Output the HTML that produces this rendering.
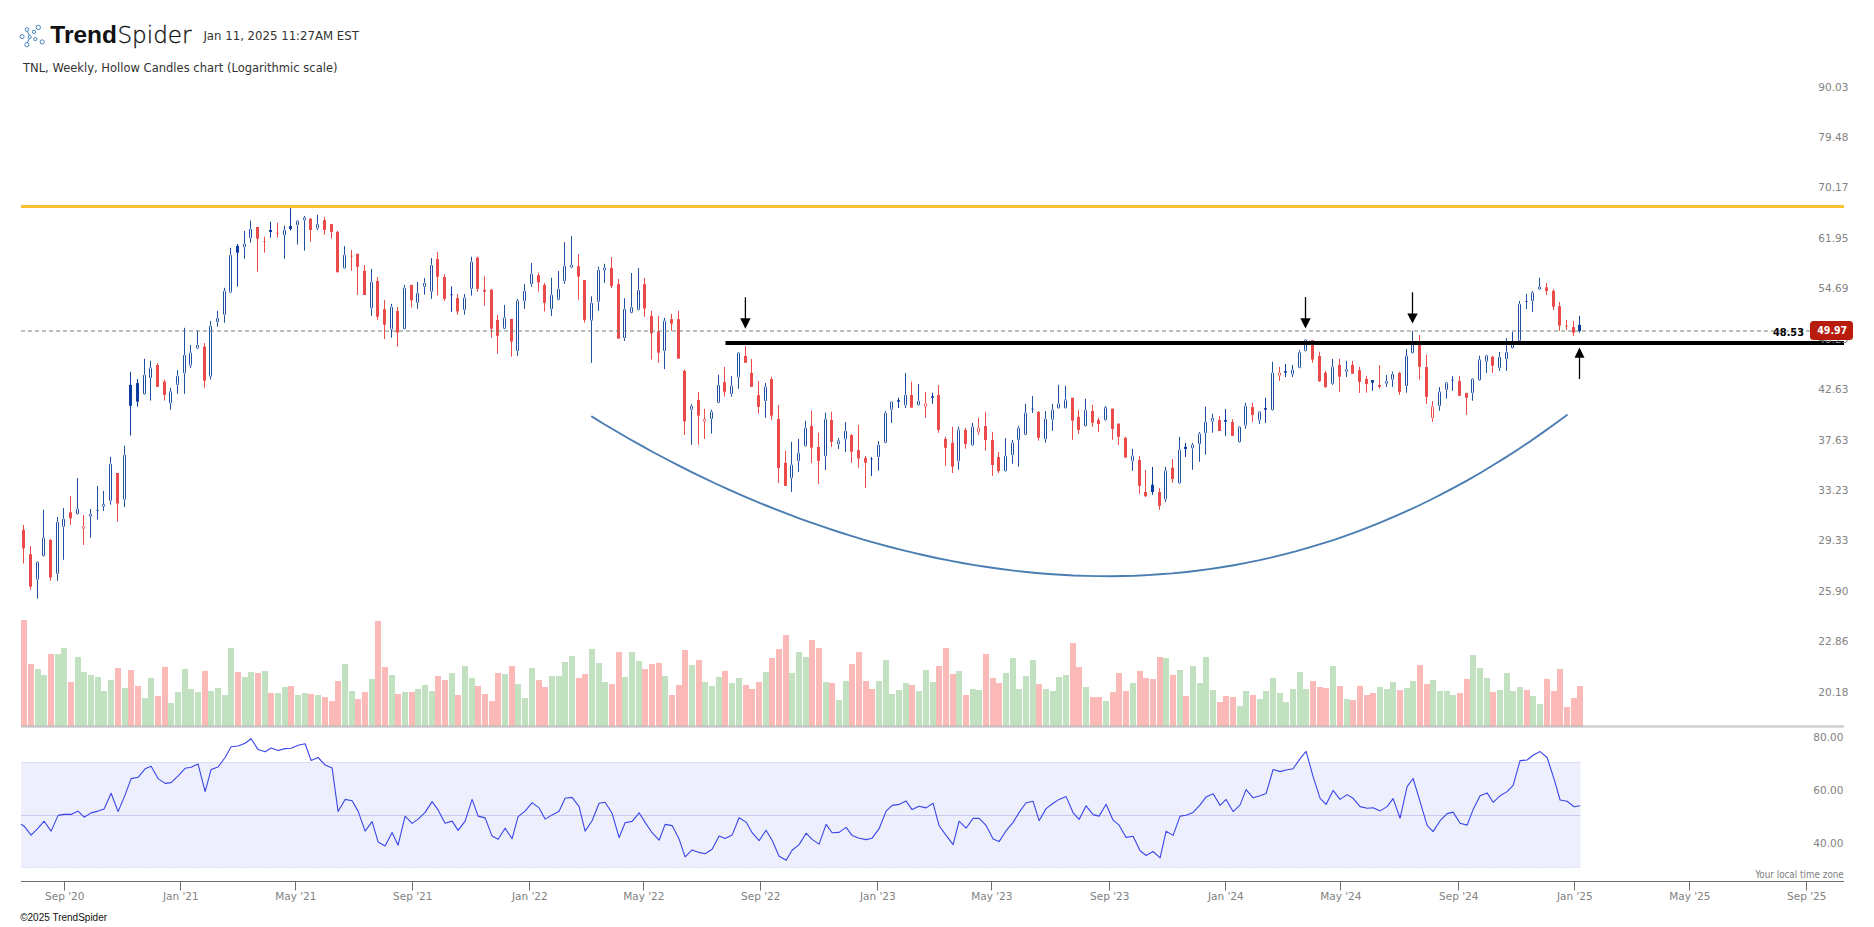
<!DOCTYPE html>
<html lang="en"><head><meta charset="utf-8"><title>TNL Weekly chart - TrendSpider</title>
<style>html,body{margin:0;padding:0;background:#fff;overflow:hidden}svg{display:block}</style></head>
<body>
<svg width="1874" height="927" viewBox="0 0 1874 927">
<rect width="100%" height="100%" fill="#fff"/>
<g id="rsi">
<rect x="21" y="762" width="1559.5" height="106" fill="#edf0fc"/>
<line x1="21" y1="762.5" x2="1580.5" y2="762.5" stroke="#dcdff3" stroke-width="1"/>
<line x1="21" y1="867.5" x2="1580.5" y2="867.5" stroke="#dfe2f6" stroke-width="1" stroke-dasharray="2 1"/>
<line x1="21" y1="815.5" x2="1580.5" y2="815.5" stroke="#c9caee" stroke-width="1"/>
<polyline fill="none" stroke="#3a45e8" stroke-width="1.1" stroke-linejoin="round" points="21.0,824.2 24.1,826.2 31.1,835.2 38.1,828.2 44.1,821.2 51.1,831.1 58.1,815.4 64.1,814.4 71.1,814.4 78.1,811.1 84.1,817.2 91.1,812.9 98.1,811.1 104.1,808.9 111.1,793.3 118.1,811.6 125.1,794.9 131.1,778.6 138.1,777.3 145.1,768.8 151.1,766.3 158.1,778.6 165.1,783.4 171.1,782.6 178.1,775.8 185.1,768.3 191.1,767.3 198.1,764.1 205.1,791.6 211.1,769.6 218.1,767.0 225.1,757.5 231.1,746.7 238.1,746.0 245.1,743.3 251.1,738.7 258.1,749.6 265.1,751.8 271.1,748.0 278.1,750.5 285.1,748.6 291.1,748.3 298.1,745.2 305.1,743.7 311.1,760.5 318.1,757.5 325.1,765.0 332.1,768.0 338.1,811.6 345.1,799.4 352.1,800.8 358.1,811.1 365.1,831.1 372.1,821.6 378.1,841.9 385.1,845.9 392.1,832.4 398.1,845.2 405.1,816.2 412.1,823.4 418.1,819.1 425.1,812.4 432.1,801.6 438.1,809.9 445.1,823.2 452.1,821.1 458.1,830.4 465.1,821.1 472.1,799.4 478.1,816.1 485.1,817.9 492.1,836.1 498.1,839.2 505.1,828.2 512.1,838.7 518.1,816.6 525.1,811.1 532.1,802.6 539.1,807.9 545.1,819.1 552.1,814.9 559.1,811.3 565.1,798.3 572.1,797.4 579.1,806.6 585.1,831.1 592.1,820.7 599.1,803.3 605.1,802.3 612.1,813.3 619.1,837.6 625.1,822.7 632.1,821.4 639.1,812.8 645.1,822.4 652.1,832.7 659.1,840.2 665.1,824.4 672.1,825.6 679.1,839.1 685.1,856.9 692.1,849.9 699.1,852.4 705.1,853.7 712.1,849.2 719.1,836.1 725.1,838.6 732.1,835.1 739.1,817.7 746.1,822.1 752.1,832.7 759.1,840.7 766.1,830.2 772.1,840.2 779.1,856.2 786.1,860.2 792.1,850.2 799.1,844.6 806.1,833.2 812.1,839.4 819.1,844.1 826.1,824.4 832.1,832.7 839.1,832.4 846.1,827.4 852.1,835.4 859.1,838.2 866.1,839.6 872.1,838.2 879.1,828.7 886.1,811.1 892.1,805.4 899.1,804.4 906.1,801.1 912.1,809.6 919.1,806.3 926.1,807.9 933.1,803.3 939.1,825.7 946.1,835.4 953.1,844.6 959.1,821.2 966.1,828.2 973.1,818.4 979.1,818.4 986.1,825.4 993.1,839.1 999.1,841.6 1006.1,830.7 1013.1,822.4 1019.1,812.4 1026.1,802.8 1033.1,801.3 1039.1,820.7 1046.1,808.6 1053.1,803.3 1059.1,799.4 1066.1,796.6 1073.1,812.8 1079.1,819.4 1086.1,805.8 1093.1,814.6 1099.1,816.1 1106.1,804.3 1113.1,820.2 1119.1,825.2 1126.1,837.4 1133.1,836.2 1140.1,850.7 1146.1,855.5 1153.1,851.5 1160.1,857.9 1166.1,831.2 1173.1,835.4 1180.1,816.1 1186.1,815.2 1193.1,812.4 1200.1,804.9 1206.1,796.9 1213.1,793.8 1220.1,805.4 1226.1,799.4 1233.1,811.6 1240.1,804.9 1246.1,789.6 1253.1,797.8 1260.1,795.8 1266.1,793.6 1273.1,769.5 1280.1,771.6 1286.1,770.0 1293.1,768.8 1300.1,758.6 1306.1,751.3 1313.1,776.6 1320.1,798.3 1326.1,804.4 1333.1,790.4 1340.1,799.4 1347.1,794.6 1353.1,798.3 1360.1,806.6 1367.1,808.3 1373.1,807.8 1380.1,810.9 1387.1,806.6 1393.1,798.6 1400.1,818.2 1407.1,786.6 1413.1,778.5 1420.1,801.6 1427.1,825.4 1433.1,831.6 1440.1,820.7 1447.1,813.6 1453.1,812.1 1460.1,823.2 1467.1,825.1 1473.1,809.6 1480.1,795.8 1487.1,792.9 1493.1,802.3 1500.1,795.8 1507.1,791.6 1513.1,785.3 1520.1,760.6 1527.1,760.0 1533.1,755.3 1540.1,751.6 1547.1,757.5 1554.1,779.2 1560.1,800.0 1567.1,801.3 1574.1,806.8 1580.1,805.8"/>
</g>
<g id="vol" shape-rendering="crispEdges">
<rect x="21" y="620.0" width="6" height="106.5" fill="#fbb9b7"/>
<rect x="28" y="664.1" width="6" height="62.4" fill="#fbb9b7"/>
<rect x="35" y="669.1" width="6" height="57.4" fill="#c1e1c1"/>
<rect x="41" y="675.3" width="6" height="51.2" fill="#c1e1c1"/>
<rect x="48" y="654.1" width="6" height="72.4" fill="#fbb9b7"/>
<rect x="55" y="654.1" width="6" height="72.4" fill="#c1e1c1"/>
<rect x="61" y="648.0" width="6" height="78.5" fill="#c1e1c1"/>
<rect x="68" y="682.1" width="6" height="44.4" fill="#fbb9b7"/>
<rect x="75" y="657.0" width="6" height="69.5" fill="#c1e1c1"/>
<rect x="81" y="672.1" width="6" height="54.4" fill="#c1e1c1"/>
<rect x="88" y="675.1" width="6" height="51.4" fill="#c1e1c1"/>
<rect x="95" y="677.1" width="6" height="49.4" fill="#c1e1c1"/>
<rect x="101" y="691.1" width="6" height="35.4" fill="#c1e1c1"/>
<rect x="108" y="680.1" width="6" height="46.4" fill="#c1e1c1"/>
<rect x="115" y="668.1" width="6" height="58.4" fill="#fbb9b7"/>
<rect x="122" y="688.1" width="6" height="38.4" fill="#c1e1c1"/>
<rect x="128" y="670.1" width="6" height="56.4" fill="#fbb9b7"/>
<rect x="135" y="686.1" width="6" height="40.4" fill="#fbb9b7"/>
<rect x="142" y="698.1" width="6" height="28.4" fill="#c1e1c1"/>
<rect x="148" y="678.1" width="6" height="48.4" fill="#c1e1c1"/>
<rect x="155" y="696.1" width="6" height="30.4" fill="#fbb9b7"/>
<rect x="162" y="667.1" width="6" height="59.4" fill="#fbb9b7"/>
<rect x="168" y="703.1" width="6" height="23.4" fill="#c1e1c1"/>
<rect x="175" y="692.1" width="6" height="34.4" fill="#c1e1c1"/>
<rect x="182" y="669.1" width="6" height="57.4" fill="#c1e1c1"/>
<rect x="188" y="689.1" width="6" height="37.4" fill="#c1e1c1"/>
<rect x="195" y="692.1" width="6" height="34.4" fill="#c1e1c1"/>
<rect x="202" y="671.1" width="6" height="55.4" fill="#fbb9b7"/>
<rect x="208" y="691.1" width="6" height="35.4" fill="#c1e1c1"/>
<rect x="215" y="688.1" width="6" height="38.4" fill="#c1e1c1"/>
<rect x="222" y="695.1" width="6" height="31.4" fill="#c1e1c1"/>
<rect x="228" y="648.0" width="6" height="78.5" fill="#c1e1c1"/>
<rect x="235" y="672.1" width="6" height="54.4" fill="#fbb9b7"/>
<rect x="242" y="677.1" width="6" height="49.4" fill="#c1e1c1"/>
<rect x="248" y="672.1" width="6" height="54.4" fill="#c1e1c1"/>
<rect x="255" y="673.1" width="6" height="53.4" fill="#fbb9b7"/>
<rect x="262" y="671.1" width="6" height="55.4" fill="#c1e1c1"/>
<rect x="268" y="693.1" width="6" height="33.4" fill="#fbb9b7"/>
<rect x="275" y="693.1" width="6" height="33.4" fill="#c1e1c1"/>
<rect x="282" y="687.1" width="6" height="39.4" fill="#c1e1c1"/>
<rect x="288" y="686.1" width="6" height="40.4" fill="#fbb9b7"/>
<rect x="295" y="695.1" width="6" height="31.4" fill="#c1e1c1"/>
<rect x="302" y="693.1" width="6" height="33.4" fill="#c1e1c1"/>
<rect x="308" y="694.1" width="6" height="32.4" fill="#fbb9b7"/>
<rect x="315" y="695.1" width="6" height="31.4" fill="#c1e1c1"/>
<rect x="322" y="697.1" width="6" height="29.4" fill="#fbb9b7"/>
<rect x="329" y="701.1" width="6" height="25.4" fill="#fbb9b7"/>
<rect x="335" y="681.1" width="6" height="45.4" fill="#fbb9b7"/>
<rect x="342" y="664.1" width="6" height="62.4" fill="#c1e1c1"/>
<rect x="349" y="691.1" width="6" height="35.4" fill="#c1e1c1"/>
<rect x="355" y="699.1" width="6" height="27.4" fill="#fbb9b7"/>
<rect x="362" y="692.1" width="6" height="34.4" fill="#fbb9b7"/>
<rect x="369" y="679.1" width="6" height="47.4" fill="#c1e1c1"/>
<rect x="375" y="621.0" width="6" height="105.5" fill="#fbb9b7"/>
<rect x="382" y="667.1" width="6" height="59.4" fill="#fbb9b7"/>
<rect x="389" y="675.1" width="6" height="51.4" fill="#c1e1c1"/>
<rect x="395" y="694.1" width="6" height="32.4" fill="#fbb9b7"/>
<rect x="402" y="692.1" width="6" height="34.4" fill="#c1e1c1"/>
<rect x="409" y="692.1" width="6" height="34.4" fill="#fbb9b7"/>
<rect x="415" y="689.1" width="6" height="37.4" fill="#c1e1c1"/>
<rect x="422" y="685.1" width="6" height="41.4" fill="#c1e1c1"/>
<rect x="429" y="691.1" width="6" height="35.4" fill="#c1e1c1"/>
<rect x="435" y="676.1" width="6" height="50.4" fill="#fbb9b7"/>
<rect x="442" y="680.1" width="6" height="46.4" fill="#fbb9b7"/>
<rect x="449" y="673.1" width="6" height="53.4" fill="#c1e1c1"/>
<rect x="455" y="695.1" width="6" height="31.4" fill="#fbb9b7"/>
<rect x="462" y="666.1" width="6" height="60.4" fill="#c1e1c1"/>
<rect x="469" y="678.1" width="6" height="48.4" fill="#c1e1c1"/>
<rect x="475" y="686.1" width="6" height="40.4" fill="#fbb9b7"/>
<rect x="482" y="694.1" width="6" height="32.4" fill="#fbb9b7"/>
<rect x="489" y="701.1" width="6" height="25.4" fill="#fbb9b7"/>
<rect x="495" y="673.1" width="6" height="53.4" fill="#fbb9b7"/>
<rect x="502" y="674.1" width="6" height="52.4" fill="#c1e1c1"/>
<rect x="509" y="666.1" width="6" height="60.4" fill="#fbb9b7"/>
<rect x="515" y="684.1" width="6" height="42.4" fill="#c1e1c1"/>
<rect x="522" y="698.1" width="6" height="28.4" fill="#c1e1c1"/>
<rect x="529" y="668.1" width="6" height="58.4" fill="#c1e1c1"/>
<rect x="536" y="680.1" width="6" height="46.4" fill="#fbb9b7"/>
<rect x="542" y="687.1" width="6" height="39.4" fill="#fbb9b7"/>
<rect x="549" y="676.1" width="6" height="50.4" fill="#c1e1c1"/>
<rect x="556" y="676.1" width="6" height="50.4" fill="#c1e1c1"/>
<rect x="562" y="662.1" width="6" height="64.4" fill="#c1e1c1"/>
<rect x="569" y="656.1" width="6" height="70.4" fill="#c1e1c1"/>
<rect x="576" y="678.1" width="6" height="48.4" fill="#fbb9b7"/>
<rect x="582" y="674.1" width="6" height="52.4" fill="#fbb9b7"/>
<rect x="589" y="649.1" width="6" height="77.4" fill="#c1e1c1"/>
<rect x="596" y="663.1" width="6" height="63.4" fill="#c1e1c1"/>
<rect x="602" y="682.1" width="6" height="44.4" fill="#c1e1c1"/>
<rect x="609" y="684.1" width="6" height="42.4" fill="#fbb9b7"/>
<rect x="616" y="652.1" width="6" height="74.4" fill="#fbb9b7"/>
<rect x="622" y="677.1" width="6" height="49.4" fill="#c1e1c1"/>
<rect x="629" y="652.1" width="6" height="74.4" fill="#c1e1c1"/>
<rect x="636" y="661.1" width="6" height="65.4" fill="#c1e1c1"/>
<rect x="642" y="669.1" width="6" height="57.4" fill="#fbb9b7"/>
<rect x="649" y="664.1" width="6" height="62.4" fill="#fbb9b7"/>
<rect x="656" y="663.1" width="6" height="63.4" fill="#fbb9b7"/>
<rect x="662" y="676.1" width="6" height="50.4" fill="#c1e1c1"/>
<rect x="669" y="695.1" width="6" height="31.4" fill="#fbb9b7"/>
<rect x="676" y="685.1" width="6" height="41.4" fill="#fbb9b7"/>
<rect x="682" y="650.1" width="6" height="76.4" fill="#fbb9b7"/>
<rect x="689" y="665.1" width="6" height="61.4" fill="#c1e1c1"/>
<rect x="696" y="660.1" width="6" height="66.4" fill="#fbb9b7"/>
<rect x="702" y="682.1" width="6" height="44.4" fill="#c1e1c1"/>
<rect x="709" y="686.1" width="6" height="40.4" fill="#c1e1c1"/>
<rect x="716" y="677.1" width="6" height="49.4" fill="#c1e1c1"/>
<rect x="722" y="671.1" width="6" height="55.4" fill="#fbb9b7"/>
<rect x="729" y="683.1" width="6" height="43.4" fill="#c1e1c1"/>
<rect x="736" y="678.1" width="6" height="48.4" fill="#c1e1c1"/>
<rect x="743" y="685.1" width="6" height="41.4" fill="#fbb9b7"/>
<rect x="749" y="689.1" width="6" height="37.4" fill="#fbb9b7"/>
<rect x="756" y="682.1" width="6" height="44.4" fill="#fbb9b7"/>
<rect x="763" y="672.1" width="6" height="54.4" fill="#c1e1c1"/>
<rect x="769" y="658.1" width="6" height="68.4" fill="#fbb9b7"/>
<rect x="776" y="649.1" width="6" height="77.4" fill="#fbb9b7"/>
<rect x="783" y="635.1" width="6" height="91.4" fill="#fbb9b7"/>
<rect x="789" y="673.1" width="6" height="53.4" fill="#c1e1c1"/>
<rect x="796" y="652.1" width="6" height="74.4" fill="#c1e1c1"/>
<rect x="803" y="657.1" width="6" height="69.4" fill="#c1e1c1"/>
<rect x="809" y="640.1" width="6" height="86.4" fill="#fbb9b7"/>
<rect x="816" y="648.1" width="6" height="78.4" fill="#fbb9b7"/>
<rect x="823" y="682.1" width="6" height="44.4" fill="#c1e1c1"/>
<rect x="829" y="683.1" width="6" height="43.4" fill="#fbb9b7"/>
<rect x="836" y="700.1" width="6" height="26.4" fill="#c1e1c1"/>
<rect x="843" y="681.1" width="6" height="45.4" fill="#c1e1c1"/>
<rect x="849" y="664.1" width="6" height="62.4" fill="#fbb9b7"/>
<rect x="856" y="652.1" width="6" height="74.4" fill="#fbb9b7"/>
<rect x="863" y="681.1" width="6" height="45.4" fill="#fbb9b7"/>
<rect x="869" y="689.1" width="6" height="37.4" fill="#fbb9b7"/>
<rect x="876" y="681.1" width="6" height="45.4" fill="#c1e1c1"/>
<rect x="883" y="660.1" width="6" height="66.4" fill="#c1e1c1"/>
<rect x="889" y="694.1" width="6" height="32.4" fill="#c1e1c1"/>
<rect x="896" y="690.1" width="6" height="36.4" fill="#c1e1c1"/>
<rect x="903" y="683.1" width="6" height="43.4" fill="#c1e1c1"/>
<rect x="909" y="685.1" width="6" height="41.4" fill="#fbb9b7"/>
<rect x="916" y="691.1" width="6" height="35.4" fill="#c1e1c1"/>
<rect x="923" y="670.1" width="6" height="56.4" fill="#c1e1c1"/>
<rect x="930" y="682.1" width="6" height="44.4" fill="#c1e1c1"/>
<rect x="936" y="666.1" width="6" height="60.4" fill="#fbb9b7"/>
<rect x="943" y="648.1" width="6" height="78.4" fill="#fbb9b7"/>
<rect x="950" y="674.1" width="6" height="52.4" fill="#fbb9b7"/>
<rect x="956" y="671.1" width="6" height="55.4" fill="#c1e1c1"/>
<rect x="963" y="695.1" width="6" height="31.4" fill="#fbb9b7"/>
<rect x="970" y="689.1" width="6" height="37.4" fill="#c1e1c1"/>
<rect x="976" y="690.1" width="6" height="36.4" fill="#c1e1c1"/>
<rect x="983" y="654.1" width="6" height="72.4" fill="#fbb9b7"/>
<rect x="990" y="678.1" width="6" height="48.4" fill="#fbb9b7"/>
<rect x="996" y="683.1" width="6" height="43.4" fill="#fbb9b7"/>
<rect x="1003" y="673.1" width="6" height="53.4" fill="#c1e1c1"/>
<rect x="1010" y="658.1" width="6" height="68.4" fill="#c1e1c1"/>
<rect x="1016" y="689.1" width="6" height="37.4" fill="#c1e1c1"/>
<rect x="1023" y="676.1" width="6" height="50.4" fill="#c1e1c1"/>
<rect x="1030" y="660.1" width="6" height="66.4" fill="#c1e1c1"/>
<rect x="1036" y="684.1" width="6" height="42.4" fill="#fbb9b7"/>
<rect x="1043" y="689.1" width="6" height="37.4" fill="#c1e1c1"/>
<rect x="1050" y="691.1" width="6" height="35.4" fill="#c1e1c1"/>
<rect x="1056" y="677.1" width="6" height="49.4" fill="#c1e1c1"/>
<rect x="1063" y="675.1" width="6" height="51.4" fill="#c1e1c1"/>
<rect x="1070" y="643.1" width="6" height="83.4" fill="#fbb9b7"/>
<rect x="1076" y="667.1" width="6" height="59.4" fill="#fbb9b7"/>
<rect x="1083" y="687.1" width="6" height="39.4" fill="#c1e1c1"/>
<rect x="1090" y="697.1" width="6" height="29.4" fill="#fbb9b7"/>
<rect x="1096" y="697.1" width="6" height="29.4" fill="#fbb9b7"/>
<rect x="1103" y="701.1" width="6" height="25.4" fill="#c1e1c1"/>
<rect x="1110" y="692.1" width="6" height="34.4" fill="#fbb9b7"/>
<rect x="1116" y="673.1" width="6" height="53.4" fill="#fbb9b7"/>
<rect x="1123" y="691.1" width="6" height="35.4" fill="#fbb9b7"/>
<rect x="1130" y="683.1" width="6" height="43.4" fill="#c1e1c1"/>
<rect x="1137" y="671.1" width="6" height="55.4" fill="#fbb9b7"/>
<rect x="1143" y="678.1" width="6" height="48.4" fill="#fbb9b7"/>
<rect x="1150" y="679.1" width="6" height="47.4" fill="#fbb9b7"/>
<rect x="1157" y="657.1" width="6" height="69.4" fill="#fbb9b7"/>
<rect x="1163" y="658.1" width="6" height="68.4" fill="#c1e1c1"/>
<rect x="1170" y="675.1" width="6" height="51.4" fill="#fbb9b7"/>
<rect x="1177" y="670.1" width="6" height="56.4" fill="#c1e1c1"/>
<rect x="1183" y="696.1" width="6" height="30.4" fill="#fbb9b7"/>
<rect x="1190" y="666.1" width="6" height="60.4" fill="#c1e1c1"/>
<rect x="1197" y="683.1" width="6" height="43.4" fill="#c1e1c1"/>
<rect x="1203" y="657.1" width="6" height="69.4" fill="#c1e1c1"/>
<rect x="1210" y="690.1" width="6" height="36.4" fill="#c1e1c1"/>
<rect x="1217" y="702.1" width="6" height="24.4" fill="#fbb9b7"/>
<rect x="1223" y="696.1" width="6" height="30.4" fill="#fbb9b7"/>
<rect x="1230" y="697.1" width="6" height="29.4" fill="#fbb9b7"/>
<rect x="1237" y="706.1" width="6" height="20.4" fill="#c1e1c1"/>
<rect x="1243" y="691.1" width="6" height="35.4" fill="#c1e1c1"/>
<rect x="1250" y="695.1" width="6" height="31.4" fill="#fbb9b7"/>
<rect x="1257" y="699.1" width="6" height="27.4" fill="#c1e1c1"/>
<rect x="1263" y="691.1" width="6" height="35.4" fill="#c1e1c1"/>
<rect x="1270" y="678.1" width="6" height="48.4" fill="#c1e1c1"/>
<rect x="1277" y="693.1" width="6" height="33.4" fill="#c1e1c1"/>
<rect x="1283" y="702.1" width="6" height="24.4" fill="#c1e1c1"/>
<rect x="1290" y="689.1" width="6" height="37.4" fill="#c1e1c1"/>
<rect x="1297" y="672.1" width="6" height="54.4" fill="#c1e1c1"/>
<rect x="1303" y="689.1" width="6" height="37.4" fill="#c1e1c1"/>
<rect x="1310" y="681.1" width="6" height="45.4" fill="#fbb9b7"/>
<rect x="1317" y="687.1" width="6" height="39.4" fill="#fbb9b7"/>
<rect x="1323" y="688.1" width="6" height="38.4" fill="#fbb9b7"/>
<rect x="1330" y="666.1" width="6" height="60.4" fill="#c1e1c1"/>
<rect x="1337" y="686.1" width="6" height="40.4" fill="#fbb9b7"/>
<rect x="1344" y="699.1" width="6" height="27.4" fill="#c1e1c1"/>
<rect x="1350" y="700.1" width="6" height="26.4" fill="#fbb9b7"/>
<rect x="1357" y="686.1" width="6" height="40.4" fill="#fbb9b7"/>
<rect x="1364" y="695.1" width="6" height="31.4" fill="#fbb9b7"/>
<rect x="1370" y="693.1" width="6" height="33.4" fill="#fbb9b7"/>
<rect x="1377" y="687.1" width="6" height="39.4" fill="#c1e1c1"/>
<rect x="1384" y="689.1" width="6" height="37.4" fill="#c1e1c1"/>
<rect x="1390" y="682.1" width="6" height="44.4" fill="#c1e1c1"/>
<rect x="1397" y="690.1" width="6" height="36.4" fill="#fbb9b7"/>
<rect x="1404" y="688.1" width="6" height="38.4" fill="#c1e1c1"/>
<rect x="1410" y="681.1" width="6" height="45.4" fill="#c1e1c1"/>
<rect x="1417" y="665.1" width="6" height="61.4" fill="#fbb9b7"/>
<rect x="1424" y="684.1" width="6" height="42.4" fill="#fbb9b7"/>
<rect x="1430" y="680.1" width="6" height="46.4" fill="#c1e1c1"/>
<rect x="1437" y="691.1" width="6" height="35.4" fill="#c1e1c1"/>
<rect x="1444" y="691.1" width="6" height="35.4" fill="#c1e1c1"/>
<rect x="1450" y="695.1" width="6" height="31.4" fill="#c1e1c1"/>
<rect x="1457" y="693.1" width="6" height="33.4" fill="#fbb9b7"/>
<rect x="1464" y="679.1" width="6" height="47.4" fill="#fbb9b7"/>
<rect x="1470" y="655.1" width="6" height="71.4" fill="#c1e1c1"/>
<rect x="1477" y="668.1" width="6" height="58.4" fill="#c1e1c1"/>
<rect x="1484" y="678.1" width="6" height="48.4" fill="#c1e1c1"/>
<rect x="1490" y="692.1" width="6" height="34.4" fill="#fbb9b7"/>
<rect x="1497" y="690.1" width="6" height="36.4" fill="#c1e1c1"/>
<rect x="1504" y="673.1" width="6" height="53.4" fill="#c1e1c1"/>
<rect x="1510" y="691.1" width="6" height="35.4" fill="#c1e1c1"/>
<rect x="1517" y="687.1" width="6" height="39.4" fill="#c1e1c1"/>
<rect x="1524" y="690.1" width="6" height="36.4" fill="#fbb9b7"/>
<rect x="1530" y="696.1" width="6" height="30.4" fill="#c1e1c1"/>
<rect x="1537" y="704.1" width="6" height="22.4" fill="#c1e1c1"/>
<rect x="1544" y="679.1" width="6" height="47.4" fill="#fbb9b7"/>
<rect x="1551" y="691.1" width="6" height="35.4" fill="#fbb9b7"/>
<rect x="1557" y="669.0" width="6" height="57.5" fill="#fbb9b7"/>
<rect x="1564" y="707.0" width="6" height="19.5" fill="#fbb9b7"/>
<rect x="1571" y="698.1" width="6" height="28.4" fill="#fbb9b7"/>
<rect x="1577" y="686.0" width="6" height="40.5" fill="#fbb9b7"/>
</g>
<rect x="21" y="725.2" width="1823" height="2.5" fill="#bdbdbd" fill-opacity="0.75"/>
<line x1="21" y1="206.5" x2="1844" y2="206.5" stroke="#fbc02d" stroke-width="3"/>
<polyline fill="none" stroke="#4a7db1" stroke-width="1.9" stroke-linecap="round" points="592.0,416.6 604.3,424.2 616.7,431.5 629.0,438.7 641.4,445.7 653.7,452.5 666.1,459.0 678.4,465.4 690.7,471.6 703.1,477.6 715.4,483.5 727.8,489.1 740.1,494.6 752.4,499.9 764.8,505.0 777.1,509.9 789.5,514.7 801.8,519.3 814.2,523.7 826.5,527.9 838.8,532.0 851.2,535.8 863.5,539.6 875.9,543.1 888.2,546.5 900.5,549.6 912.9,552.7 925.2,555.5 937.6,558.2 949.9,560.6 962.3,563.0 974.6,565.1 986.9,567.0 999.3,568.8 1011.6,570.4 1024.0,571.8 1036.3,573.0 1048.6,574.0 1061.0,574.8 1073.3,575.5 1085.7,575.9 1098.0,576.1 1110.4,576.2 1122.7,576.0 1135.0,575.7 1147.4,575.1 1159.7,574.3 1172.1,573.4 1184.4,572.2 1196.7,570.8 1209.1,569.1 1221.4,567.3 1233.8,565.2 1246.1,562.9 1258.5,560.4 1270.8,557.6 1283.1,554.6 1295.5,551.4 1307.8,547.9 1320.2,544.2 1332.5,540.3 1344.8,536.1 1357.2,531.6 1369.5,526.9 1381.9,521.9 1394.2,516.7 1406.6,511.2 1418.9,505.5 1431.2,499.5 1443.6,493.2 1455.9,486.6 1468.3,479.8 1480.6,472.7 1492.9,465.3 1505.3,457.6 1517.6,449.7 1530.0,441.5 1542.3,432.9 1554.7,424.1 1567.0,415.0"/>
<g id="candles">
<line x1="23.5" y1="524.9" x2="23.5" y2="563.5" stroke="#ea4a4a" stroke-width="1"/>
<rect x="22.0" y="529.9" width="3" height="18.4" fill="#ea4a4a"/>
<line x1="30.5" y1="546.0" x2="30.5" y2="589.9" stroke="#ea4a4a" stroke-width="1"/>
<rect x="29.0" y="554.2" width="3" height="32.4" fill="#ea4a4a"/>
<line x1="37.5" y1="580.2" x2="37.5" y2="598.6" stroke="#1f4fa3" stroke-width="1"/>
<rect x="36.5" y="561.9" width="2" height="17.8" rx="1" fill="#fff" stroke="#1f4fa3" stroke-width="1"/>
<line x1="43.5" y1="509.9" x2="43.5" y2="537.0" stroke="#1f4fa3" stroke-width="1"/>
<rect x="42.5" y="537.5" width="2" height="18.5" rx="1" fill="#fff" stroke="#1f4fa3" stroke-width="1"/>
<line x1="50.5" y1="539.0" x2="50.5" y2="580.8" stroke="#ea4a4a" stroke-width="1"/>
<rect x="49.0" y="540.0" width="3" height="37.5" fill="#ea4a4a"/>
<line x1="57.5" y1="517.0" x2="57.5" y2="521.2" stroke="#1f4fa3" stroke-width="1"/>
<line x1="57.5" y1="574.4" x2="57.5" y2="580.8" stroke="#1f4fa3" stroke-width="1"/>
<rect x="56.5" y="521.7" width="2" height="52.2" rx="1" fill="#fff" stroke="#1f4fa3" stroke-width="1"/>
<line x1="63.5" y1="508.0" x2="63.5" y2="518.3" stroke="#1f4fa3" stroke-width="1"/>
<line x1="63.5" y1="527.4" x2="63.5" y2="559.8" stroke="#1f4fa3" stroke-width="1"/>
<rect x="62.5" y="518.8" width="2" height="8.1" rx="1" fill="#fff" stroke="#1f4fa3" stroke-width="1"/>
<line x1="70.5" y1="495.9" x2="70.5" y2="524.9" stroke="#ea4a4a" stroke-width="1"/>
<rect x="69.0" y="512.2" width="3" height="6.1" fill="#ea4a4a"/>
<line x1="77.5" y1="478.0" x2="77.5" y2="508.0" stroke="#1f4fa3" stroke-width="1"/>
<rect x="76.5" y="508.5" width="2" height="5.6" rx="1" fill="#fff" stroke="#1f4fa3" stroke-width="1"/>
<line x1="83.5" y1="515.0" x2="83.5" y2="525.9" stroke="#ea4a4a" stroke-width="1"/>
<line x1="83.5" y1="528.9" x2="83.5" y2="544.9" stroke="#ea4a4a" stroke-width="1"/>
<ellipse cx="83.5" cy="527.4" rx="1.15" ry="1.15" fill="#fff" stroke="#ea4a4a" stroke-width="1"/>
<line x1="90.5" y1="509.0" x2="90.5" y2="513.8" stroke="#1f4fa3" stroke-width="1"/>
<line x1="90.5" y1="516.8" x2="90.5" y2="537.7" stroke="#1f4fa3" stroke-width="1"/>
<ellipse cx="90.5" cy="515.3" rx="1.15" ry="1.15" fill="#fff" stroke="#1f4fa3" stroke-width="1"/>
<line x1="97.5" y1="486.0" x2="97.5" y2="519.6" stroke="#1f4fa3" stroke-width="1"/>
<line x1="96.0" y1="510.3" x2="99.0" y2="510.3" stroke="#1f4fa3" stroke-width="1" stroke-opacity="0.6"/>
<line x1="103.5" y1="490.9" x2="103.5" y2="503.9" stroke="#1f4fa3" stroke-width="1"/>
<line x1="103.5" y1="506.9" x2="103.5" y2="510.9" stroke="#1f4fa3" stroke-width="1"/>
<ellipse cx="103.5" cy="505.4" rx="1.15" ry="1.15" fill="#fff" stroke="#1f4fa3" stroke-width="1"/>
<line x1="110.5" y1="457.0" x2="110.5" y2="463.3" stroke="#1f4fa3" stroke-width="1"/>
<line x1="110.5" y1="501.4" x2="110.5" y2="504.7" stroke="#1f4fa3" stroke-width="1"/>
<rect x="109.5" y="463.8" width="2" height="37.1" rx="1" fill="#fff" stroke="#1f4fa3" stroke-width="1"/>
<line x1="117.5" y1="473.0" x2="117.5" y2="521.6" stroke="#ea4a4a" stroke-width="1"/>
<rect x="116.0" y="473.0" width="3" height="30.5" fill="#ea4a4a"/>
<line x1="124.5" y1="445.8" x2="124.5" y2="454.2" stroke="#1f4fa3" stroke-width="1"/>
<line x1="124.5" y1="500.2" x2="124.5" y2="507.0" stroke="#1f4fa3" stroke-width="1"/>
<rect x="123.5" y="454.7" width="2" height="45.0" rx="1" fill="#fff" stroke="#1f4fa3" stroke-width="1"/>
<line x1="130.5" y1="371.8" x2="130.5" y2="435.5" stroke="#0d3d9e" stroke-width="1"/>
<rect x="129.0" y="384.9" width="3" height="20.9" fill="#0d3d9e"/>
<line x1="137.5" y1="379.0" x2="137.5" y2="406.8" stroke="#0d3d9e" stroke-width="1"/>
<rect x="136.0" y="383.1" width="3" height="18.5" fill="#0d3d9e"/>
<line x1="144.5" y1="358.8" x2="144.5" y2="374.2" stroke="#1f4fa3" stroke-width="1"/>
<rect x="143.5" y="374.7" width="2" height="19.4" rx="1" fill="#fff" stroke="#1f4fa3" stroke-width="1"/>
<line x1="150.5" y1="360.8" x2="150.5" y2="367.0" stroke="#1f4fa3" stroke-width="1"/>
<line x1="150.5" y1="378.6" x2="150.5" y2="400.6" stroke="#1f4fa3" stroke-width="1"/>
<rect x="149.5" y="367.5" width="2" height="10.6" rx="1" fill="#fff" stroke="#1f4fa3" stroke-width="1"/>
<line x1="157.5" y1="363.0" x2="157.5" y2="386.8" stroke="#ea4a4a" stroke-width="1"/>
<rect x="156.0" y="365.0" width="3" height="21.8" fill="#ea4a4a"/>
<line x1="164.5" y1="379.6" x2="164.5" y2="400.6" stroke="#ea4a4a" stroke-width="1"/>
<rect x="163.0" y="381.6" width="3" height="13.2" fill="#ea4a4a"/>
<line x1="170.5" y1="387.8" x2="170.5" y2="390.9" stroke="#1f4fa3" stroke-width="1"/>
<line x1="170.5" y1="403.9" x2="170.5" y2="409.7" stroke="#1f4fa3" stroke-width="1"/>
<rect x="169.5" y="391.4" width="2" height="12.0" rx="1" fill="#fff" stroke="#1f4fa3" stroke-width="1"/>
<line x1="177.5" y1="369.9" x2="177.5" y2="375.3" stroke="#1f4fa3" stroke-width="1"/>
<line x1="177.5" y1="385.4" x2="177.5" y2="393.8" stroke="#1f4fa3" stroke-width="1"/>
<rect x="176.5" y="375.8" width="2" height="9.1" rx="1" fill="#fff" stroke="#1f4fa3" stroke-width="1"/>
<line x1="184.5" y1="327.8" x2="184.5" y2="354.4" stroke="#1f4fa3" stroke-width="1"/>
<line x1="184.5" y1="373.8" x2="184.5" y2="393.8" stroke="#1f4fa3" stroke-width="1"/>
<rect x="183.5" y="354.9" width="2" height="18.4" rx="1" fill="#fff" stroke="#1f4fa3" stroke-width="1"/>
<line x1="190.5" y1="345.0" x2="190.5" y2="352.0" stroke="#1f4fa3" stroke-width="1"/>
<line x1="190.5" y1="366.0" x2="190.5" y2="368.0" stroke="#1f4fa3" stroke-width="1"/>
<rect x="189.5" y="352.5" width="2" height="13.0" rx="1" fill="#fff" stroke="#1f4fa3" stroke-width="1"/>
<line x1="197.5" y1="330.5" x2="197.5" y2="344.3" stroke="#1f4fa3" stroke-width="1"/>
<rect x="196.5" y="344.8" width="2" height="3.7" rx="1" fill="#fff" stroke="#1f4fa3" stroke-width="1"/>
<line x1="204.5" y1="343.1" x2="204.5" y2="387.8" stroke="#ea4a4a" stroke-width="1"/>
<rect x="203.0" y="346.6" width="3" height="34.0" fill="#ea4a4a"/>
<line x1="210.5" y1="321.0" x2="210.5" y2="325.2" stroke="#1f4fa3" stroke-width="1"/>
<line x1="210.5" y1="377.1" x2="210.5" y2="379.6" stroke="#1f4fa3" stroke-width="1"/>
<rect x="209.5" y="325.7" width="2" height="50.9" rx="1" fill="#fff" stroke="#1f4fa3" stroke-width="1"/>
<line x1="217.5" y1="310.9" x2="217.5" y2="317.4" stroke="#1f4fa3" stroke-width="1"/>
<line x1="217.5" y1="322.5" x2="217.5" y2="326.7" stroke="#1f4fa3" stroke-width="1"/>
<rect x="216.5" y="317.9" width="2" height="4.1" rx="1" fill="#fff" stroke="#1f4fa3" stroke-width="1"/>
<line x1="224.5" y1="287.8" x2="224.5" y2="290.1" stroke="#1f4fa3" stroke-width="1"/>
<line x1="224.5" y1="315.4" x2="224.5" y2="322.8" stroke="#1f4fa3" stroke-width="1"/>
<rect x="223.5" y="290.6" width="2" height="24.3" rx="1" fill="#fff" stroke="#1f4fa3" stroke-width="1"/>
<line x1="230.5" y1="247.8" x2="230.5" y2="254.2" stroke="#1f4fa3" stroke-width="1"/>
<rect x="229.5" y="254.7" width="2" height="37.9" rx="1" fill="#fff" stroke="#1f4fa3" stroke-width="1"/>
<line x1="237.5" y1="243.9" x2="237.5" y2="286.7" stroke="#0d3d9e" stroke-width="1"/>
<rect x="236.0" y="245.9" width="3" height="6.8" fill="#0d3d9e"/>
<line x1="244.5" y1="230.9" x2="244.5" y2="243.2" stroke="#1f4fa3" stroke-width="1"/>
<line x1="244.5" y1="247.8" x2="244.5" y2="258.7" stroke="#1f4fa3" stroke-width="1"/>
<rect x="243.5" y="243.7" width="2" height="3.6" rx="1" fill="#fff" stroke="#1f4fa3" stroke-width="1"/>
<line x1="250.5" y1="220.6" x2="250.5" y2="228.4" stroke="#1f4fa3" stroke-width="1"/>
<line x1="250.5" y1="238.7" x2="250.5" y2="242.6" stroke="#1f4fa3" stroke-width="1"/>
<rect x="249.5" y="228.9" width="2" height="9.3" rx="1" fill="#fff" stroke="#1f4fa3" stroke-width="1"/>
<line x1="257.5" y1="227.0" x2="257.5" y2="271.7" stroke="#ea4a4a" stroke-width="1"/>
<rect x="256.0" y="227.0" width="3" height="11.7" fill="#ea4a4a"/>
<line x1="264.5" y1="236.7" x2="264.5" y2="252.7" stroke="#ea4a4a" stroke-width="1"/>
<line x1="263.0" y1="241.6" x2="266.0" y2="241.6" stroke="#ea4a4a" stroke-width="1" stroke-opacity="0.6"/>
<line x1="270.5" y1="221.8" x2="270.5" y2="237.7" stroke="#0d3d9e" stroke-width="1"/>
<rect x="269.0" y="230.0" width="3" height="1.9" fill="#0d3d9e"/>
<line x1="277.5" y1="222.8" x2="277.5" y2="237.7" stroke="#ea4a4a" stroke-width="1"/>
<line x1="276.0" y1="233.3" x2="279.0" y2="233.3" stroke="#ea4a4a" stroke-width="1" stroke-opacity="0.6"/>
<line x1="284.5" y1="225.7" x2="284.5" y2="229.4" stroke="#1f4fa3" stroke-width="1"/>
<line x1="284.5" y1="235.8" x2="284.5" y2="258.7" stroke="#1f4fa3" stroke-width="1"/>
<rect x="283.5" y="229.9" width="2" height="5.4" rx="1" fill="#fff" stroke="#1f4fa3" stroke-width="1"/>
<line x1="290.5" y1="208.2" x2="290.5" y2="230.5" stroke="#0d3d9e" stroke-width="1"/>
<rect x="289.0" y="226.1" width="3" height="2.9" fill="#0d3d9e"/>
<line x1="297.5" y1="225.7" x2="297.5" y2="244.5" stroke="#1f4fa3" stroke-width="1"/>
<rect x="296.5" y="220.7" width="2" height="4.5" rx="1" fill="#fff" stroke="#1f4fa3" stroke-width="1"/>
<line x1="304.5" y1="216.0" x2="304.5" y2="217.0" stroke="#1f4fa3" stroke-width="1"/>
<line x1="304.5" y1="220.6" x2="304.5" y2="250.7" stroke="#1f4fa3" stroke-width="1"/>
<ellipse cx="304.5" cy="218.8" rx="1.15" ry="1.40" fill="#fff" stroke="#1f4fa3" stroke-width="1"/>
<line x1="310.5" y1="217.9" x2="310.5" y2="241.6" stroke="#ea4a4a" stroke-width="1"/>
<rect x="309.0" y="218.9" width="3" height="11.1" fill="#ea4a4a"/>
<line x1="317.5" y1="214.8" x2="317.5" y2="223.7" stroke="#1f4fa3" stroke-width="1"/>
<line x1="317.5" y1="229.0" x2="317.5" y2="230.0" stroke="#1f4fa3" stroke-width="1"/>
<rect x="316.5" y="224.2" width="2" height="4.3" rx="1" fill="#fff" stroke="#1f4fa3" stroke-width="1"/>
<line x1="324.5" y1="216.9" x2="324.5" y2="234.8" stroke="#ea4a4a" stroke-width="1"/>
<rect x="323.0" y="220.2" width="3" height="9.8" fill="#ea4a4a"/>
<line x1="331.5" y1="224.1" x2="331.5" y2="238.7" stroke="#ea4a4a" stroke-width="1"/>
<rect x="330.0" y="224.1" width="3" height="7.8" fill="#ea4a4a"/>
<line x1="337.5" y1="230.9" x2="337.5" y2="272.7" stroke="#ea4a4a" stroke-width="1"/>
<rect x="336.0" y="231.9" width="3" height="40.2" fill="#ea4a4a"/>
<line x1="344.5" y1="246.1" x2="344.5" y2="254.2" stroke="#1f4fa3" stroke-width="1"/>
<rect x="343.5" y="254.7" width="2" height="13.6" rx="1" fill="#fff" stroke="#1f4fa3" stroke-width="1"/>
<line x1="351.5" y1="250.0" x2="351.5" y2="270.7" stroke="#ea4a4a" stroke-width="1"/>
<line x1="350.0" y1="256.2" x2="353.0" y2="256.2" stroke="#ea4a4a" stroke-width="1" stroke-opacity="0.6"/>
<line x1="357.5" y1="253.8" x2="357.5" y2="295.0" stroke="#ea4a4a" stroke-width="1"/>
<rect x="356.0" y="253.8" width="3" height="13.0" fill="#ea4a4a"/>
<line x1="364.5" y1="264.9" x2="364.5" y2="295.0" stroke="#ea4a4a" stroke-width="1"/>
<rect x="363.0" y="270.7" width="3" height="24.3" fill="#ea4a4a"/>
<line x1="371.5" y1="268.8" x2="371.5" y2="281.4" stroke="#1f4fa3" stroke-width="1"/>
<line x1="371.5" y1="308.6" x2="371.5" y2="315.8" stroke="#1f4fa3" stroke-width="1"/>
<rect x="370.5" y="281.9" width="2" height="26.2" rx="1" fill="#fff" stroke="#1f4fa3" stroke-width="1"/>
<line x1="377.5" y1="276.9" x2="377.5" y2="319.9" stroke="#ea4a4a" stroke-width="1"/>
<rect x="376.0" y="281.0" width="3" height="35.7" fill="#ea4a4a"/>
<line x1="384.5" y1="299.9" x2="384.5" y2="339.1" stroke="#ea4a4a" stroke-width="1"/>
<rect x="383.0" y="309.2" width="3" height="15.5" fill="#ea4a4a"/>
<line x1="391.5" y1="303.9" x2="391.5" y2="306.3" stroke="#1f4fa3" stroke-width="1"/>
<line x1="391.5" y1="330.0" x2="391.5" y2="337.7" stroke="#1f4fa3" stroke-width="1"/>
<rect x="390.5" y="306.8" width="2" height="22.7" rx="1" fill="#fff" stroke="#1f4fa3" stroke-width="1"/>
<line x1="397.5" y1="306.8" x2="397.5" y2="346.7" stroke="#ea4a4a" stroke-width="1"/>
<rect x="396.0" y="311.1" width="3" height="21.4" fill="#ea4a4a"/>
<line x1="404.5" y1="284.9" x2="404.5" y2="287.2" stroke="#1f4fa3" stroke-width="1"/>
<rect x="403.5" y="287.7" width="2" height="41.4" rx="1" fill="#fff" stroke="#1f4fa3" stroke-width="1"/>
<line x1="411.5" y1="284.9" x2="411.5" y2="307.6" stroke="#ea4a4a" stroke-width="1"/>
<rect x="410.0" y="284.9" width="3" height="15.5" fill="#ea4a4a"/>
<line x1="417.5" y1="282.0" x2="417.5" y2="292.3" stroke="#1f4fa3" stroke-width="1"/>
<line x1="417.5" y1="303.3" x2="417.5" y2="308.8" stroke="#1f4fa3" stroke-width="1"/>
<rect x="416.5" y="292.8" width="2" height="10.0" rx="1" fill="#fff" stroke="#1f4fa3" stroke-width="1"/>
<line x1="424.5" y1="278.1" x2="424.5" y2="282.4" stroke="#1f4fa3" stroke-width="1"/>
<line x1="424.5" y1="287.2" x2="424.5" y2="294.6" stroke="#1f4fa3" stroke-width="1"/>
<rect x="423.5" y="282.9" width="2" height="3.8" rx="1" fill="#fff" stroke="#1f4fa3" stroke-width="1"/>
<line x1="431.5" y1="258.1" x2="431.5" y2="264.5" stroke="#1f4fa3" stroke-width="1"/>
<line x1="431.5" y1="292.3" x2="431.5" y2="298.9" stroke="#1f4fa3" stroke-width="1"/>
<rect x="430.5" y="265.0" width="2" height="26.8" rx="1" fill="#fff" stroke="#1f4fa3" stroke-width="1"/>
<line x1="437.5" y1="251.9" x2="437.5" y2="295.6" stroke="#ea4a4a" stroke-width="1"/>
<rect x="436.0" y="259.1" width="3" height="17.6" fill="#ea4a4a"/>
<line x1="444.5" y1="274.2" x2="444.5" y2="300.8" stroke="#ea4a4a" stroke-width="1"/>
<rect x="443.0" y="277.1" width="3" height="21.8" fill="#ea4a4a"/>
<line x1="451.5" y1="286.3" x2="451.5" y2="311.7" stroke="#0d3d9e" stroke-width="1"/>
<line x1="450.0" y1="294.7" x2="453.0" y2="294.7" stroke="#0d3d9e" stroke-width="1" stroke-opacity="0.6"/>
<line x1="457.5" y1="294.0" x2="457.5" y2="314.6" stroke="#ea4a4a" stroke-width="1"/>
<rect x="456.0" y="298.1" width="3" height="13.4" fill="#ea4a4a"/>
<line x1="464.5" y1="294.0" x2="464.5" y2="296.9" stroke="#1f4fa3" stroke-width="1"/>
<line x1="464.5" y1="310.5" x2="464.5" y2="314.6" stroke="#1f4fa3" stroke-width="1"/>
<rect x="463.5" y="297.4" width="2" height="12.6" rx="1" fill="#fff" stroke="#1f4fa3" stroke-width="1"/>
<line x1="471.5" y1="256.7" x2="471.5" y2="261.2" stroke="#1f4fa3" stroke-width="1"/>
<line x1="471.5" y1="289.4" x2="471.5" y2="295.6" stroke="#1f4fa3" stroke-width="1"/>
<rect x="470.5" y="261.7" width="2" height="27.2" rx="1" fill="#fff" stroke="#1f4fa3" stroke-width="1"/>
<line x1="477.5" y1="256.7" x2="477.5" y2="291.7" stroke="#ea4a4a" stroke-width="1"/>
<rect x="476.0" y="257.7" width="3" height="31.1" fill="#ea4a4a"/>
<line x1="484.5" y1="276.2" x2="484.5" y2="305.7" stroke="#ea4a4a" stroke-width="1"/>
<rect x="483.0" y="289.8" width="3" height="1.9" fill="#ea4a4a"/>
<line x1="491.5" y1="288.8" x2="491.5" y2="337.7" stroke="#ea4a4a" stroke-width="1"/>
<rect x="490.0" y="289.8" width="3" height="38.8" fill="#ea4a4a"/>
<line x1="497.5" y1="315.0" x2="497.5" y2="353.8" stroke="#ea4a4a" stroke-width="1"/>
<rect x="496.0" y="319.9" width="3" height="15.9" fill="#ea4a4a"/>
<line x1="504.5" y1="304.9" x2="504.5" y2="316.9" stroke="#1f4fa3" stroke-width="1"/>
<rect x="503.5" y="317.4" width="2" height="11.3" rx="1" fill="#fff" stroke="#1f4fa3" stroke-width="1"/>
<line x1="511.5" y1="318.9" x2="511.5" y2="356.7" stroke="#ea4a4a" stroke-width="1"/>
<rect x="510.0" y="318.9" width="3" height="22.7" fill="#ea4a4a"/>
<line x1="517.5" y1="298.9" x2="517.5" y2="299.9" stroke="#1f4fa3" stroke-width="1"/>
<line x1="517.5" y1="351.5" x2="517.5" y2="355.8" stroke="#1f4fa3" stroke-width="1"/>
<rect x="516.5" y="300.4" width="2" height="50.6" rx="1" fill="#fff" stroke="#1f4fa3" stroke-width="1"/>
<line x1="524.5" y1="283.9" x2="524.5" y2="290.3" stroke="#1f4fa3" stroke-width="1"/>
<line x1="524.5" y1="301.8" x2="524.5" y2="308.8" stroke="#1f4fa3" stroke-width="1"/>
<rect x="523.5" y="290.8" width="2" height="10.5" rx="1" fill="#fff" stroke="#1f4fa3" stroke-width="1"/>
<line x1="531.5" y1="263.0" x2="531.5" y2="273.3" stroke="#1f4fa3" stroke-width="1"/>
<line x1="531.5" y1="284.5" x2="531.5" y2="286.8" stroke="#1f4fa3" stroke-width="1"/>
<rect x="530.5" y="273.8" width="2" height="10.2" rx="1" fill="#fff" stroke="#1f4fa3" stroke-width="1"/>
<line x1="538.5" y1="272.7" x2="538.5" y2="291.7" stroke="#ea4a4a" stroke-width="1"/>
<rect x="537.0" y="275.2" width="3" height="7.2" fill="#ea4a4a"/>
<line x1="544.5" y1="283.0" x2="544.5" y2="311.7" stroke="#ea4a4a" stroke-width="1"/>
<rect x="543.0" y="284.9" width="3" height="17.9" fill="#ea4a4a"/>
<line x1="551.5" y1="277.7" x2="551.5" y2="294.2" stroke="#1f4fa3" stroke-width="1"/>
<line x1="551.5" y1="309.6" x2="551.5" y2="316.0" stroke="#1f4fa3" stroke-width="1"/>
<rect x="550.5" y="294.7" width="2" height="14.4" rx="1" fill="#fff" stroke="#1f4fa3" stroke-width="1"/>
<line x1="558.5" y1="271.0" x2="558.5" y2="288.3" stroke="#1f4fa3" stroke-width="1"/>
<rect x="557.5" y="288.8" width="2" height="11.0" rx="1" fill="#fff" stroke="#1f4fa3" stroke-width="1"/>
<line x1="564.5" y1="242.1" x2="564.5" y2="265.4" stroke="#1f4fa3" stroke-width="1"/>
<line x1="564.5" y1="281.7" x2="564.5" y2="283.8" stroke="#1f4fa3" stroke-width="1"/>
<rect x="563.5" y="265.9" width="2" height="15.3" rx="1" fill="#fff" stroke="#1f4fa3" stroke-width="1"/>
<line x1="571.5" y1="236.1" x2="571.5" y2="264.4" stroke="#1f4fa3" stroke-width="1"/>
<ellipse cx="571.5" cy="266.2" rx="1.15" ry="1.45" fill="#fff" stroke="#1f4fa3" stroke-width="1"/>
<line x1="578.5" y1="254.1" x2="578.5" y2="299.8" stroke="#ea4a4a" stroke-width="1"/>
<rect x="577.0" y="266.2" width="3" height="10.3" fill="#ea4a4a"/>
<line x1="584.5" y1="280.0" x2="584.5" y2="322.7" stroke="#ea4a4a" stroke-width="1"/>
<rect x="583.0" y="280.0" width="3" height="39.8" fill="#ea4a4a"/>
<line x1="591.5" y1="296.3" x2="591.5" y2="302.3" stroke="#1f4fa3" stroke-width="1"/>
<line x1="591.5" y1="321.1" x2="591.5" y2="362.9" stroke="#1f4fa3" stroke-width="1"/>
<rect x="590.5" y="302.8" width="2" height="17.8" rx="1" fill="#fff" stroke="#1f4fa3" stroke-width="1"/>
<line x1="598.5" y1="266.7" x2="598.5" y2="269.3" stroke="#1f4fa3" stroke-width="1"/>
<line x1="598.5" y1="302.3" x2="598.5" y2="310.8" stroke="#1f4fa3" stroke-width="1"/>
<rect x="597.5" y="269.8" width="2" height="32.0" rx="1" fill="#fff" stroke="#1f4fa3" stroke-width="1"/>
<line x1="604.5" y1="263.8" x2="604.5" y2="267.3" stroke="#1f4fa3" stroke-width="1"/>
<line x1="604.5" y1="271.0" x2="604.5" y2="282.9" stroke="#1f4fa3" stroke-width="1"/>
<ellipse cx="604.5" cy="269.1" rx="1.15" ry="1.45" fill="#fff" stroke="#1f4fa3" stroke-width="1"/>
<line x1="611.5" y1="257.0" x2="611.5" y2="288.1" stroke="#ea4a4a" stroke-width="1"/>
<rect x="610.0" y="268.1" width="3" height="18.1" fill="#ea4a4a"/>
<line x1="618.5" y1="279.0" x2="618.5" y2="338.6" stroke="#ea4a4a" stroke-width="1"/>
<rect x="617.0" y="284.2" width="3" height="54.4" fill="#ea4a4a"/>
<line x1="624.5" y1="298.2" x2="624.5" y2="308.5" stroke="#1f4fa3" stroke-width="1"/>
<line x1="624.5" y1="338.6" x2="624.5" y2="340.9" stroke="#1f4fa3" stroke-width="1"/>
<rect x="623.5" y="309.0" width="2" height="29.1" rx="1" fill="#fff" stroke="#1f4fa3" stroke-width="1"/>
<line x1="631.5" y1="273.0" x2="631.5" y2="306.6" stroke="#1f4fa3" stroke-width="1"/>
<rect x="630.5" y="307.1" width="2" height="5.7" rx="1" fill="#fff" stroke="#1f4fa3" stroke-width="1"/>
<line x1="638.5" y1="268.1" x2="638.5" y2="289.5" stroke="#1f4fa3" stroke-width="1"/>
<rect x="637.5" y="290.0" width="2" height="19.9" rx="1" fill="#fff" stroke="#1f4fa3" stroke-width="1"/>
<line x1="644.5" y1="277.8" x2="644.5" y2="316.8" stroke="#ea4a4a" stroke-width="1"/>
<rect x="643.0" y="284.2" width="3" height="24.3" fill="#ea4a4a"/>
<line x1="651.5" y1="310.8" x2="651.5" y2="359.6" stroke="#ea4a4a" stroke-width="1"/>
<rect x="650.0" y="315.9" width="3" height="17.4" fill="#ea4a4a"/>
<line x1="658.5" y1="315.9" x2="658.5" y2="362.9" stroke="#ea4a4a" stroke-width="1"/>
<rect x="657.0" y="331.4" width="3" height="21.2" fill="#ea4a4a"/>
<line x1="664.5" y1="317.8" x2="664.5" y2="320.1" stroke="#1f4fa3" stroke-width="1"/>
<line x1="664.5" y1="351.6" x2="664.5" y2="369.1" stroke="#1f4fa3" stroke-width="1"/>
<rect x="663.5" y="320.6" width="2" height="30.5" rx="1" fill="#fff" stroke="#1f4fa3" stroke-width="1"/>
<line x1="671.5" y1="313.9" x2="671.5" y2="330.8" stroke="#ea4a4a" stroke-width="1"/>
<rect x="670.0" y="319.2" width="3" height="4.4" fill="#ea4a4a"/>
<line x1="678.5" y1="310.8" x2="678.5" y2="358.6" stroke="#ea4a4a" stroke-width="1"/>
<rect x="677.0" y="319.2" width="3" height="39.4" fill="#ea4a4a"/>
<line x1="684.5" y1="369.6" x2="684.5" y2="435.0" stroke="#ea4a4a" stroke-width="1"/>
<rect x="683.0" y="370.9" width="3" height="50.5" fill="#ea4a4a"/>
<line x1="691.5" y1="403.9" x2="691.5" y2="405.3" stroke="#1f4fa3" stroke-width="1"/>
<line x1="691.5" y1="410.3" x2="691.5" y2="444.7" stroke="#1f4fa3" stroke-width="1"/>
<rect x="690.5" y="405.8" width="2" height="4.0" rx="1" fill="#fff" stroke="#1f4fa3" stroke-width="1"/>
<line x1="698.5" y1="391.9" x2="698.5" y2="444.7" stroke="#ea4a4a" stroke-width="1"/>
<rect x="697.0" y="400.0" width="3" height="15.6" fill="#ea4a4a"/>
<line x1="704.5" y1="408.8" x2="704.5" y2="418.9" stroke="#ea4a4a" stroke-width="1"/>
<line x1="704.5" y1="421.9" x2="704.5" y2="438.9" stroke="#ea4a4a" stroke-width="1"/>
<ellipse cx="704.5" cy="420.4" rx="1.15" ry="1.15" fill="#fff" stroke="#ea4a4a" stroke-width="1"/>
<line x1="711.5" y1="409.8" x2="711.5" y2="411.1" stroke="#1f4fa3" stroke-width="1"/>
<line x1="711.5" y1="419.5" x2="711.5" y2="433.6" stroke="#1f4fa3" stroke-width="1"/>
<rect x="710.5" y="411.6" width="2" height="7.4" rx="1" fill="#fff" stroke="#1f4fa3" stroke-width="1"/>
<line x1="718.5" y1="374.8" x2="718.5" y2="384.5" stroke="#1f4fa3" stroke-width="1"/>
<rect x="717.5" y="385.0" width="2" height="17.8" rx="1" fill="#fff" stroke="#1f4fa3" stroke-width="1"/>
<line x1="724.5" y1="367.0" x2="724.5" y2="396.7" stroke="#ea4a4a" stroke-width="1"/>
<rect x="723.0" y="382.2" width="3" height="9.5" fill="#ea4a4a"/>
<line x1="731.5" y1="376.2" x2="731.5" y2="385.1" stroke="#1f4fa3" stroke-width="1"/>
<line x1="731.5" y1="394.6" x2="731.5" y2="396.7" stroke="#1f4fa3" stroke-width="1"/>
<rect x="730.5" y="385.6" width="2" height="8.5" rx="1" fill="#fff" stroke="#1f4fa3" stroke-width="1"/>
<line x1="738.5" y1="378.1" x2="738.5" y2="388.8" stroke="#1f4fa3" stroke-width="1"/>
<rect x="737.5" y="352.6" width="2" height="25.0" rx="1" fill="#fff" stroke="#1f4fa3" stroke-width="1"/>
<line x1="745.5" y1="346.1" x2="745.5" y2="362.8" stroke="#ea4a4a" stroke-width="1"/>
<rect x="744.0" y="356.0" width="3" height="6.8" fill="#ea4a4a"/>
<line x1="751.5" y1="358.9" x2="751.5" y2="386.8" stroke="#ea4a4a" stroke-width="1"/>
<rect x="750.0" y="372.9" width="3" height="13.9" fill="#ea4a4a"/>
<line x1="758.5" y1="381.0" x2="758.5" y2="413.6" stroke="#ea4a4a" stroke-width="1"/>
<rect x="757.0" y="395.2" width="3" height="11.6" fill="#ea4a4a"/>
<line x1="765.5" y1="383.0" x2="765.5" y2="385.9" stroke="#1f4fa3" stroke-width="1"/>
<line x1="765.5" y1="401.6" x2="765.5" y2="417.9" stroke="#1f4fa3" stroke-width="1"/>
<rect x="764.5" y="386.4" width="2" height="14.7" rx="1" fill="#fff" stroke="#1f4fa3" stroke-width="1"/>
<line x1="771.5" y1="376.7" x2="771.5" y2="419.9" stroke="#ea4a4a" stroke-width="1"/>
<rect x="770.0" y="379.1" width="3" height="36.5" fill="#ea4a4a"/>
<line x1="778.5" y1="404.9" x2="778.5" y2="483.0" stroke="#ea4a4a" stroke-width="1"/>
<rect x="777.0" y="418.9" width="3" height="49.1" fill="#ea4a4a"/>
<line x1="785.5" y1="450.9" x2="785.5" y2="485.9" stroke="#ea4a4a" stroke-width="1"/>
<rect x="784.0" y="462.8" width="3" height="23.1" fill="#ea4a4a"/>
<line x1="791.5" y1="441.8" x2="791.5" y2="464.1" stroke="#1f4fa3" stroke-width="1"/>
<line x1="791.5" y1="478.7" x2="791.5" y2="491.9" stroke="#1f4fa3" stroke-width="1"/>
<rect x="790.5" y="464.6" width="2" height="13.6" rx="1" fill="#fff" stroke="#1f4fa3" stroke-width="1"/>
<line x1="798.5" y1="438.9" x2="798.5" y2="452.1" stroke="#1f4fa3" stroke-width="1"/>
<line x1="798.5" y1="461.6" x2="798.5" y2="471.9" stroke="#1f4fa3" stroke-width="1"/>
<rect x="797.5" y="452.6" width="2" height="8.5" rx="1" fill="#fff" stroke="#1f4fa3" stroke-width="1"/>
<line x1="805.5" y1="420.8" x2="805.5" y2="427.2" stroke="#1f4fa3" stroke-width="1"/>
<rect x="804.5" y="427.7" width="2" height="18.5" rx="1" fill="#fff" stroke="#1f4fa3" stroke-width="1"/>
<line x1="811.5" y1="410.7" x2="811.5" y2="463.2" stroke="#ea4a4a" stroke-width="1"/>
<rect x="810.0" y="425.9" width="3" height="21.7" fill="#ea4a4a"/>
<line x1="818.5" y1="432.7" x2="818.5" y2="484.1" stroke="#ea4a4a" stroke-width="1"/>
<rect x="817.0" y="447.0" width="3" height="13.8" fill="#ea4a4a"/>
<line x1="825.5" y1="412.7" x2="825.5" y2="418.1" stroke="#1f4fa3" stroke-width="1"/>
<line x1="825.5" y1="456.7" x2="825.5" y2="470.0" stroke="#1f4fa3" stroke-width="1"/>
<rect x="824.5" y="418.6" width="2" height="37.6" rx="1" fill="#fff" stroke="#1f4fa3" stroke-width="1"/>
<line x1="831.5" y1="411.7" x2="831.5" y2="447.0" stroke="#ea4a4a" stroke-width="1"/>
<rect x="830.0" y="419.9" width="3" height="21.9" fill="#ea4a4a"/>
<line x1="838.5" y1="437.9" x2="838.5" y2="439.9" stroke="#1f4fa3" stroke-width="1"/>
<line x1="838.5" y1="444.7" x2="838.5" y2="449.0" stroke="#1f4fa3" stroke-width="1"/>
<rect x="837.5" y="440.4" width="2" height="3.8" rx="1" fill="#fff" stroke="#1f4fa3" stroke-width="1"/>
<line x1="845.5" y1="422.0" x2="845.5" y2="430.2" stroke="#1f4fa3" stroke-width="1"/>
<line x1="845.5" y1="440.0" x2="845.5" y2="452.0" stroke="#1f4fa3" stroke-width="1"/>
<rect x="844.5" y="430.7" width="2" height="8.8" rx="1" fill="#fff" stroke="#1f4fa3" stroke-width="1"/>
<line x1="851.5" y1="434.2" x2="851.5" y2="462.9" stroke="#ea4a4a" stroke-width="1"/>
<rect x="850.0" y="435.1" width="3" height="16.6" fill="#ea4a4a"/>
<line x1="858.5" y1="424.9" x2="858.5" y2="467.8" stroke="#ea4a4a" stroke-width="1"/>
<rect x="857.0" y="450.1" width="3" height="8.3" fill="#ea4a4a"/>
<line x1="865.5" y1="455.9" x2="865.5" y2="488.0" stroke="#ea4a4a" stroke-width="1"/>
<rect x="864.0" y="458.1" width="3" height="4.6" fill="#ea4a4a"/>
<line x1="871.5" y1="457.1" x2="871.5" y2="475.9" stroke="#0d3d9e" stroke-width="1"/>
<line x1="870.0" y1="459.0" x2="873.0" y2="459.0" stroke="#0d3d9e" stroke-width="1" stroke-opacity="0.6"/>
<line x1="878.5" y1="441.0" x2="878.5" y2="444.3" stroke="#1f4fa3" stroke-width="1"/>
<line x1="878.5" y1="457.5" x2="878.5" y2="470.7" stroke="#1f4fa3" stroke-width="1"/>
<rect x="877.5" y="444.8" width="2" height="12.2" rx="1" fill="#fff" stroke="#1f4fa3" stroke-width="1"/>
<line x1="885.5" y1="410.9" x2="885.5" y2="412.2" stroke="#1f4fa3" stroke-width="1"/>
<rect x="884.5" y="412.7" width="2" height="30.1" rx="1" fill="#fff" stroke="#1f4fa3" stroke-width="1"/>
<line x1="891.5" y1="410.3" x2="891.5" y2="422.9" stroke="#1f4fa3" stroke-width="1"/>
<rect x="890.5" y="401.7" width="2" height="8.1" rx="1" fill="#fff" stroke="#1f4fa3" stroke-width="1"/>
<line x1="898.5" y1="397.7" x2="898.5" y2="408.0" stroke="#0d3d9e" stroke-width="1"/>
<rect x="897.0" y="400.2" width="3" height="1.5" fill="#0d3d9e"/>
<line x1="905.5" y1="373.0" x2="905.5" y2="394.4" stroke="#1f4fa3" stroke-width="1"/>
<line x1="905.5" y1="406.0" x2="905.5" y2="408.0" stroke="#1f4fa3" stroke-width="1"/>
<rect x="904.5" y="394.9" width="2" height="10.6" rx="1" fill="#fff" stroke="#1f4fa3" stroke-width="1"/>
<line x1="911.5" y1="381.7" x2="911.5" y2="407.6" stroke="#ea4a4a" stroke-width="1"/>
<rect x="910.0" y="395.0" width="3" height="12.6" fill="#ea4a4a"/>
<line x1="918.5" y1="384.1" x2="918.5" y2="400.2" stroke="#1f4fa3" stroke-width="1"/>
<rect x="917.5" y="400.7" width="2" height="4.4" rx="1" fill="#fff" stroke="#1f4fa3" stroke-width="1"/>
<line x1="925.5" y1="391.8" x2="925.5" y2="403.1" stroke="#ea4a4a" stroke-width="1"/>
<line x1="925.5" y1="407.0" x2="925.5" y2="417.7" stroke="#ea4a4a" stroke-width="1"/>
<ellipse cx="925.5" cy="405.1" rx="1.15" ry="1.55" fill="#fff" stroke="#ea4a4a" stroke-width="1"/>
<line x1="932.5" y1="392.8" x2="932.5" y2="403.7" stroke="#0d3d9e" stroke-width="1"/>
<rect x="931.0" y="396.3" width="3" height="1.4" fill="#0d3d9e"/>
<line x1="938.5" y1="385.0" x2="938.5" y2="432.8" stroke="#ea4a4a" stroke-width="1"/>
<rect x="937.0" y="395.0" width="3" height="34.9" fill="#ea4a4a"/>
<line x1="945.5" y1="436.7" x2="945.5" y2="465.8" stroke="#ea4a4a" stroke-width="1"/>
<rect x="944.0" y="439.0" width="3" height="8.8" fill="#ea4a4a"/>
<line x1="952.5" y1="426.8" x2="952.5" y2="473.0" stroke="#ea4a4a" stroke-width="1"/>
<rect x="951.0" y="442.9" width="3" height="23.7" fill="#ea4a4a"/>
<line x1="958.5" y1="426.8" x2="958.5" y2="428.9" stroke="#1f4fa3" stroke-width="1"/>
<line x1="958.5" y1="461.7" x2="958.5" y2="469.7" stroke="#1f4fa3" stroke-width="1"/>
<rect x="957.5" y="429.4" width="2" height="31.8" rx="1" fill="#fff" stroke="#1f4fa3" stroke-width="1"/>
<line x1="965.5" y1="427.8" x2="965.5" y2="448.7" stroke="#ea4a4a" stroke-width="1"/>
<rect x="964.0" y="429.9" width="3" height="14.0" fill="#ea4a4a"/>
<line x1="972.5" y1="422.9" x2="972.5" y2="426.0" stroke="#1f4fa3" stroke-width="1"/>
<rect x="971.5" y="426.5" width="2" height="18.8" rx="1" fill="#fff" stroke="#1f4fa3" stroke-width="1"/>
<line x1="978.5" y1="417.7" x2="978.5" y2="427.0" stroke="#ea4a4a" stroke-width="1"/>
<line x1="978.5" y1="432.8" x2="978.5" y2="434.8" stroke="#ea4a4a" stroke-width="1"/>
<rect x="977.5" y="427.5" width="2" height="4.8" rx="1" fill="#fff" stroke="#ea4a4a" stroke-width="1"/>
<line x1="985.5" y1="411.8" x2="985.5" y2="450.7" stroke="#ea4a4a" stroke-width="1"/>
<rect x="984.0" y="426.0" width="3" height="14.0" fill="#ea4a4a"/>
<line x1="992.5" y1="431.8" x2="992.5" y2="475.9" stroke="#ea4a4a" stroke-width="1"/>
<rect x="991.0" y="440.0" width="3" height="24.9" fill="#ea4a4a"/>
<line x1="998.5" y1="452.0" x2="998.5" y2="473.0" stroke="#ea4a4a" stroke-width="1"/>
<rect x="997.0" y="457.1" width="3" height="14.0" fill="#ea4a4a"/>
<line x1="1005.5" y1="438.1" x2="1005.5" y2="455.1" stroke="#1f4fa3" stroke-width="1"/>
<rect x="1004.5" y="455.6" width="2" height="15.6" rx="1" fill="#fff" stroke="#1f4fa3" stroke-width="1"/>
<line x1="1012.5" y1="440.0" x2="1012.5" y2="442.0" stroke="#1f4fa3" stroke-width="1"/>
<line x1="1012.5" y1="455.6" x2="1012.5" y2="463.7" stroke="#1f4fa3" stroke-width="1"/>
<rect x="1011.5" y="442.5" width="2" height="12.6" rx="1" fill="#fff" stroke="#1f4fa3" stroke-width="1"/>
<line x1="1018.5" y1="426.1" x2="1018.5" y2="427.3" stroke="#1f4fa3" stroke-width="1"/>
<line x1="1018.5" y1="440.5" x2="1018.5" y2="466.7" stroke="#1f4fa3" stroke-width="1"/>
<rect x="1017.5" y="427.8" width="2" height="12.2" rx="1" fill="#fff" stroke="#1f4fa3" stroke-width="1"/>
<line x1="1025.5" y1="403.8" x2="1025.5" y2="412.0" stroke="#1f4fa3" stroke-width="1"/>
<rect x="1024.5" y="412.5" width="2" height="22.3" rx="1" fill="#fff" stroke="#1f4fa3" stroke-width="1"/>
<line x1="1032.5" y1="395.9" x2="1032.5" y2="413.0" stroke="#1f4fa3" stroke-width="1"/>
<line x1="1031.0" y1="409.1" x2="1034.0" y2="409.1" stroke="#1f4fa3" stroke-width="1" stroke-opacity="0.6"/>
<line x1="1038.5" y1="411.0" x2="1038.5" y2="440.7" stroke="#ea4a4a" stroke-width="1"/>
<rect x="1037.0" y="412.0" width="3" height="25.8" fill="#ea4a4a"/>
<line x1="1045.5" y1="411.0" x2="1045.5" y2="418.2" stroke="#1f4fa3" stroke-width="1"/>
<line x1="1045.5" y1="439.8" x2="1045.5" y2="442.7" stroke="#1f4fa3" stroke-width="1"/>
<rect x="1044.5" y="418.7" width="2" height="20.6" rx="1" fill="#fff" stroke="#1f4fa3" stroke-width="1"/>
<line x1="1052.5" y1="403.8" x2="1052.5" y2="409.1" stroke="#1f4fa3" stroke-width="1"/>
<line x1="1052.5" y1="420.3" x2="1052.5" y2="430.8" stroke="#1f4fa3" stroke-width="1"/>
<rect x="1051.5" y="409.6" width="2" height="10.2" rx="1" fill="#fff" stroke="#1f4fa3" stroke-width="1"/>
<line x1="1058.5" y1="384.8" x2="1058.5" y2="402.9" stroke="#1f4fa3" stroke-width="1"/>
<rect x="1057.5" y="403.4" width="2" height="4.8" rx="1" fill="#fff" stroke="#1f4fa3" stroke-width="1"/>
<line x1="1065.5" y1="385.8" x2="1065.5" y2="399.0" stroke="#1f4fa3" stroke-width="1"/>
<rect x="1064.5" y="399.5" width="2" height="8.7" rx="1" fill="#fff" stroke="#1f4fa3" stroke-width="1"/>
<line x1="1072.5" y1="397.8" x2="1072.5" y2="439.8" stroke="#ea4a4a" stroke-width="1"/>
<rect x="1071.0" y="397.8" width="3" height="22.9" fill="#ea4a4a"/>
<line x1="1078.5" y1="410.0" x2="1078.5" y2="433.9" stroke="#ea4a4a" stroke-width="1"/>
<rect x="1077.0" y="416.8" width="3" height="13.1" fill="#ea4a4a"/>
<line x1="1085.5" y1="398.8" x2="1085.5" y2="409.1" stroke="#1f4fa3" stroke-width="1"/>
<rect x="1084.5" y="409.6" width="2" height="16.5" rx="1" fill="#fff" stroke="#1f4fa3" stroke-width="1"/>
<line x1="1092.5" y1="404.8" x2="1092.5" y2="426.9" stroke="#ea4a4a" stroke-width="1"/>
<rect x="1091.0" y="411.0" width="3" height="11.7" fill="#ea4a4a"/>
<line x1="1098.5" y1="417.8" x2="1098.5" y2="431.8" stroke="#ea4a4a" stroke-width="1"/>
<rect x="1097.0" y="420.1" width="3" height="3.9" fill="#ea4a4a"/>
<line x1="1105.5" y1="405.8" x2="1105.5" y2="406.7" stroke="#1f4fa3" stroke-width="1"/>
<rect x="1104.5" y="407.2" width="2" height="13.0" rx="1" fill="#fff" stroke="#1f4fa3" stroke-width="1"/>
<line x1="1112.5" y1="408.7" x2="1112.5" y2="439.8" stroke="#ea4a4a" stroke-width="1"/>
<rect x="1111.0" y="408.7" width="3" height="20.2" fill="#ea4a4a"/>
<line x1="1118.5" y1="423.6" x2="1118.5" y2="445.0" stroke="#ea4a4a" stroke-width="1"/>
<rect x="1117.0" y="423.6" width="3" height="13.2" fill="#ea4a4a"/>
<line x1="1125.5" y1="436.8" x2="1125.5" y2="457.6" stroke="#ea4a4a" stroke-width="1"/>
<rect x="1124.0" y="437.8" width="3" height="19.8" fill="#ea4a4a"/>
<line x1="1132.5" y1="448.9" x2="1132.5" y2="455.1" stroke="#1f4fa3" stroke-width="1"/>
<line x1="1132.5" y1="461.9" x2="1132.5" y2="470.8" stroke="#1f4fa3" stroke-width="1"/>
<rect x="1131.5" y="455.6" width="2" height="5.8" rx="1" fill="#fff" stroke="#1f4fa3" stroke-width="1"/>
<line x1="1139.5" y1="456.1" x2="1139.5" y2="493.9" stroke="#ea4a4a" stroke-width="1"/>
<rect x="1138.0" y="460.0" width="3" height="25.8" fill="#ea4a4a"/>
<line x1="1145.5" y1="469.9" x2="1145.5" y2="497.0" stroke="#ea4a4a" stroke-width="1"/>
<rect x="1144.0" y="492.0" width="3" height="4.1" fill="#ea4a4a"/>
<line x1="1152.5" y1="466.9" x2="1152.5" y2="494.9" stroke="#0d3d9e" stroke-width="1"/>
<rect x="1151.0" y="484.8" width="3" height="7.2" fill="#0d3d9e"/>
<line x1="1159.5" y1="488.1" x2="1159.5" y2="510.0" stroke="#ea4a4a" stroke-width="1"/>
<rect x="1158.0" y="492.0" width="3" height="13.8" fill="#ea4a4a"/>
<line x1="1165.5" y1="466.9" x2="1165.5" y2="469.9" stroke="#1f4fa3" stroke-width="1"/>
<line x1="1165.5" y1="500.0" x2="1165.5" y2="501.9" stroke="#1f4fa3" stroke-width="1"/>
<rect x="1164.5" y="470.4" width="2" height="29.1" rx="1" fill="#fff" stroke="#1f4fa3" stroke-width="1"/>
<line x1="1172.5" y1="459.0" x2="1172.5" y2="482.9" stroke="#ea4a4a" stroke-width="1"/>
<rect x="1171.0" y="467.7" width="3" height="11.3" fill="#ea4a4a"/>
<line x1="1179.5" y1="436.8" x2="1179.5" y2="448.9" stroke="#1f4fa3" stroke-width="1"/>
<rect x="1178.5" y="449.4" width="2" height="33.9" rx="1" fill="#fff" stroke="#1f4fa3" stroke-width="1"/>
<line x1="1185.5" y1="442.7" x2="1185.5" y2="457.0" stroke="#0d3d9e" stroke-width="1"/>
<rect x="1184.0" y="446.9" width="3" height="2.0" fill="#0d3d9e"/>
<line x1="1192.5" y1="443.0" x2="1192.5" y2="444.0" stroke="#1f4fa3" stroke-width="1"/>
<line x1="1192.5" y1="448.8" x2="1192.5" y2="469.8" stroke="#1f4fa3" stroke-width="1"/>
<rect x="1191.5" y="444.5" width="2" height="3.8" rx="1" fill="#fff" stroke="#1f4fa3" stroke-width="1"/>
<line x1="1199.5" y1="431.9" x2="1199.5" y2="432.9" stroke="#1f4fa3" stroke-width="1"/>
<line x1="1199.5" y1="444.6" x2="1199.5" y2="461.8" stroke="#1f4fa3" stroke-width="1"/>
<rect x="1198.5" y="433.4" width="2" height="10.7" rx="1" fill="#fff" stroke="#1f4fa3" stroke-width="1"/>
<line x1="1205.5" y1="406.7" x2="1205.5" y2="421.1" stroke="#1f4fa3" stroke-width="1"/>
<line x1="1205.5" y1="433.7" x2="1205.5" y2="454.7" stroke="#1f4fa3" stroke-width="1"/>
<rect x="1204.5" y="421.6" width="2" height="11.6" rx="1" fill="#fff" stroke="#1f4fa3" stroke-width="1"/>
<line x1="1212.5" y1="413.9" x2="1212.5" y2="417.4" stroke="#1f4fa3" stroke-width="1"/>
<line x1="1212.5" y1="422.0" x2="1212.5" y2="432.7" stroke="#1f4fa3" stroke-width="1"/>
<rect x="1211.5" y="417.9" width="2" height="3.6" rx="1" fill="#fff" stroke="#1f4fa3" stroke-width="1"/>
<line x1="1219.5" y1="416.2" x2="1219.5" y2="431.0" stroke="#ea4a4a" stroke-width="1"/>
<rect x="1218.0" y="420.1" width="3" height="10.9" fill="#ea4a4a"/>
<line x1="1225.5" y1="409.0" x2="1225.5" y2="435.8" stroke="#0d3d9e" stroke-width="1"/>
<rect x="1224.0" y="420.1" width="3" height="1.6" fill="#0d3d9e"/>
<line x1="1232.5" y1="419.1" x2="1232.5" y2="435.8" stroke="#ea4a4a" stroke-width="1"/>
<rect x="1231.0" y="422.0" width="3" height="13.8" fill="#ea4a4a"/>
<rect x="1238.5" y="426.6" width="2" height="15.5" rx="1" fill="#fff" stroke="#1f4fa3" stroke-width="1"/>
<line x1="1245.5" y1="402.8" x2="1245.5" y2="405.1" stroke="#1f4fa3" stroke-width="1"/>
<line x1="1245.5" y1="426.1" x2="1245.5" y2="428.8" stroke="#1f4fa3" stroke-width="1"/>
<rect x="1244.5" y="405.6" width="2" height="20.0" rx="1" fill="#fff" stroke="#1f4fa3" stroke-width="1"/>
<line x1="1252.5" y1="402.8" x2="1252.5" y2="422.0" stroke="#ea4a4a" stroke-width="1"/>
<rect x="1251.0" y="407.1" width="3" height="7.8" fill="#ea4a4a"/>
<line x1="1259.5" y1="421.1" x2="1259.5" y2="424.0" stroke="#1f4fa3" stroke-width="1"/>
<rect x="1258.5" y="411.5" width="2" height="9.1" rx="1" fill="#fff" stroke="#1f4fa3" stroke-width="1"/>
<line x1="1265.5" y1="397.8" x2="1265.5" y2="423.0" stroke="#0d3d9e" stroke-width="1"/>
<rect x="1264.0" y="408.1" width="3" height="1.5" fill="#0d3d9e"/>
<line x1="1272.5" y1="361.8" x2="1272.5" y2="372.1" stroke="#1f4fa3" stroke-width="1"/>
<rect x="1271.5" y="372.6" width="2" height="37.5" rx="1" fill="#fff" stroke="#1f4fa3" stroke-width="1"/>
<line x1="1279.5" y1="366.9" x2="1279.5" y2="372.1" stroke="#ea4a4a" stroke-width="1"/>
<line x1="1279.5" y1="376.0" x2="1279.5" y2="380.9" stroke="#ea4a4a" stroke-width="1"/>
<ellipse cx="1279.5" cy="374.1" rx="1.15" ry="1.55" fill="#fff" stroke="#ea4a4a" stroke-width="1"/>
<line x1="1285.5" y1="364.0" x2="1285.5" y2="377.0" stroke="#0d3d9e" stroke-width="1"/>
<rect x="1284.0" y="371.2" width="3" height="1.5" fill="#0d3d9e"/>
<line x1="1292.5" y1="365.0" x2="1292.5" y2="369.2" stroke="#1f4fa3" stroke-width="1"/>
<line x1="1292.5" y1="375.0" x2="1292.5" y2="377.0" stroke="#1f4fa3" stroke-width="1"/>
<rect x="1291.5" y="369.7" width="2" height="4.8" rx="1" fill="#fff" stroke="#1f4fa3" stroke-width="1"/>
<line x1="1299.5" y1="349.8" x2="1299.5" y2="351.7" stroke="#1f4fa3" stroke-width="1"/>
<rect x="1298.5" y="352.2" width="2" height="15.6" rx="1" fill="#fff" stroke="#1f4fa3" stroke-width="1"/>
<rect x="1304.5" y="339.6" width="2" height="11.3" rx="1" fill="#fff" stroke="#1f4fa3" stroke-width="1"/>
<line x1="1312.5" y1="340.1" x2="1312.5" y2="362.8" stroke="#ea4a4a" stroke-width="1"/>
<rect x="1311.0" y="340.1" width="3" height="19.4" fill="#ea4a4a"/>
<line x1="1319.5" y1="351.7" x2="1319.5" y2="381.8" stroke="#ea4a4a" stroke-width="1"/>
<rect x="1318.0" y="356.0" width="3" height="25.3" fill="#ea4a4a"/>
<line x1="1325.5" y1="370.8" x2="1325.5" y2="387.7" stroke="#ea4a4a" stroke-width="1"/>
<rect x="1324.0" y="372.7" width="3" height="14.4" fill="#ea4a4a"/>
<line x1="1332.5" y1="358.9" x2="1332.5" y2="365.9" stroke="#1f4fa3" stroke-width="1"/>
<line x1="1332.5" y1="384.4" x2="1332.5" y2="385.1" stroke="#1f4fa3" stroke-width="1"/>
<rect x="1331.5" y="366.4" width="2" height="17.5" rx="1" fill="#fff" stroke="#1f4fa3" stroke-width="1"/>
<line x1="1339.5" y1="358.9" x2="1339.5" y2="391.9" stroke="#ea4a4a" stroke-width="1"/>
<rect x="1338.0" y="365.0" width="3" height="11.6" fill="#ea4a4a"/>
<line x1="1346.5" y1="360.9" x2="1346.5" y2="368.8" stroke="#1f4fa3" stroke-width="1"/>
<line x1="1346.5" y1="372.1" x2="1346.5" y2="377.0" stroke="#1f4fa3" stroke-width="1"/>
<ellipse cx="1346.5" cy="370.5" rx="1.15" ry="1.25" fill="#fff" stroke="#1f4fa3" stroke-width="1"/>
<line x1="1352.5" y1="360.9" x2="1352.5" y2="373.7" stroke="#ea4a4a" stroke-width="1"/>
<rect x="1351.0" y="365.0" width="3" height="8.7" fill="#ea4a4a"/>
<line x1="1359.5" y1="366.9" x2="1359.5" y2="392.9" stroke="#ea4a4a" stroke-width="1"/>
<rect x="1358.0" y="370.2" width="3" height="11.6" fill="#ea4a4a"/>
<line x1="1366.5" y1="376.2" x2="1366.5" y2="392.7" stroke="#ea4a4a" stroke-width="1"/>
<rect x="1365.0" y="379.1" width="3" height="4.9" fill="#ea4a4a"/>
<line x1="1372.5" y1="380.1" x2="1372.5" y2="390.8" stroke="#0d3d9e" stroke-width="1"/>
<rect x="1371.0" y="380.1" width="3" height="2.5" fill="#0d3d9e"/>
<line x1="1379.5" y1="365.1" x2="1379.5" y2="388.8" stroke="#ea4a4a" stroke-width="1"/>
<rect x="1378.0" y="385.0" width="3" height="1.9" fill="#ea4a4a"/>
<line x1="1386.5" y1="374.9" x2="1386.5" y2="380.7" stroke="#1f4fa3" stroke-width="1"/>
<line x1="1386.5" y1="384.2" x2="1386.5" y2="386.9" stroke="#1f4fa3" stroke-width="1"/>
<ellipse cx="1386.5" cy="382.4" rx="1.15" ry="1.35" fill="#fff" stroke="#1f4fa3" stroke-width="1"/>
<line x1="1392.5" y1="371.6" x2="1392.5" y2="373.5" stroke="#1f4fa3" stroke-width="1"/>
<line x1="1392.5" y1="380.3" x2="1392.5" y2="386.9" stroke="#1f4fa3" stroke-width="1"/>
<rect x="1391.5" y="374.0" width="2" height="5.8" rx="1" fill="#fff" stroke="#1f4fa3" stroke-width="1"/>
<line x1="1399.5" y1="371.9" x2="1399.5" y2="394.9" stroke="#ea4a4a" stroke-width="1"/>
<rect x="1398.0" y="372.9" width="3" height="19.0" fill="#ea4a4a"/>
<line x1="1406.5" y1="349.0" x2="1406.5" y2="355.0" stroke="#1f4fa3" stroke-width="1"/>
<line x1="1406.5" y1="386.5" x2="1406.5" y2="392.7" stroke="#1f4fa3" stroke-width="1"/>
<rect x="1405.5" y="355.5" width="2" height="30.5" rx="1" fill="#fff" stroke="#1f4fa3" stroke-width="1"/>
<line x1="1412.5" y1="330.8" x2="1412.5" y2="341.8" stroke="#1f4fa3" stroke-width="1"/>
<rect x="1411.5" y="342.3" width="2" height="10.7" rx="1" fill="#fff" stroke="#1f4fa3" stroke-width="1"/>
<line x1="1419.5" y1="335.0" x2="1419.5" y2="379.7" stroke="#ea4a4a" stroke-width="1"/>
<rect x="1418.0" y="343.8" width="3" height="22.9" fill="#ea4a4a"/>
<line x1="1426.5" y1="354.9" x2="1426.5" y2="404.0" stroke="#ea4a4a" stroke-width="1"/>
<rect x="1425.0" y="367.1" width="3" height="29.7" fill="#ea4a4a"/>
<line x1="1432.5" y1="401.1" x2="1432.5" y2="405.9" stroke="#ea4a4a" stroke-width="1"/>
<line x1="1432.5" y1="418.5" x2="1432.5" y2="421.8" stroke="#ea4a4a" stroke-width="1"/>
<rect x="1431.5" y="406.4" width="2" height="11.6" rx="1" fill="#fff" stroke="#ea4a4a" stroke-width="1"/>
<line x1="1439.5" y1="387.1" x2="1439.5" y2="391.0" stroke="#1f4fa3" stroke-width="1"/>
<line x1="1439.5" y1="406.5" x2="1439.5" y2="410.8" stroke="#1f4fa3" stroke-width="1"/>
<rect x="1438.5" y="391.5" width="2" height="14.5" rx="1" fill="#fff" stroke="#1f4fa3" stroke-width="1"/>
<line x1="1446.5" y1="390.4" x2="1446.5" y2="398.7" stroke="#1f4fa3" stroke-width="1"/>
<rect x="1445.5" y="382.5" width="2" height="7.4" rx="1" fill="#fff" stroke="#1f4fa3" stroke-width="1"/>
<line x1="1452.5" y1="376.2" x2="1452.5" y2="390.8" stroke="#1f4fa3" stroke-width="1"/>
<line x1="1451.0" y1="380.3" x2="1454.0" y2="380.3" stroke="#1f4fa3" stroke-width="1" stroke-opacity="0.6"/>
<line x1="1459.5" y1="376.2" x2="1459.5" y2="395.8" stroke="#ea4a4a" stroke-width="1"/>
<rect x="1458.0" y="381.1" width="3" height="14.7" fill="#ea4a4a"/>
<line x1="1466.5" y1="392.9" x2="1466.5" y2="415.0" stroke="#ea4a4a" stroke-width="1"/>
<rect x="1465.0" y="392.9" width="3" height="4.9" fill="#ea4a4a"/>
<line x1="1472.5" y1="393.7" x2="1472.5" y2="400.7" stroke="#1f4fa3" stroke-width="1"/>
<rect x="1471.5" y="378.7" width="2" height="14.5" rx="1" fill="#fff" stroke="#1f4fa3" stroke-width="1"/>
<line x1="1479.5" y1="355.8" x2="1479.5" y2="358.9" stroke="#1f4fa3" stroke-width="1"/>
<rect x="1478.5" y="359.4" width="2" height="20.8" rx="1" fill="#fff" stroke="#1f4fa3" stroke-width="1"/>
<line x1="1486.5" y1="362.2" x2="1486.5" y2="372.9" stroke="#1f4fa3" stroke-width="1"/>
<rect x="1485.5" y="355.4" width="2" height="6.3" rx="1" fill="#fff" stroke="#1f4fa3" stroke-width="1"/>
<line x1="1492.5" y1="355.8" x2="1492.5" y2="372.9" stroke="#ea4a4a" stroke-width="1"/>
<rect x="1491.0" y="356.8" width="3" height="8.9" fill="#ea4a4a"/>
<line x1="1499.5" y1="352.0" x2="1499.5" y2="356.3" stroke="#1f4fa3" stroke-width="1"/>
<line x1="1499.5" y1="368.6" x2="1499.5" y2="370.9" stroke="#1f4fa3" stroke-width="1"/>
<rect x="1498.5" y="356.8" width="2" height="11.3" rx="1" fill="#fff" stroke="#1f4fa3" stroke-width="1"/>
<line x1="1506.5" y1="338.1" x2="1506.5" y2="351.5" stroke="#1f4fa3" stroke-width="1"/>
<line x1="1506.5" y1="359.5" x2="1506.5" y2="370.9" stroke="#1f4fa3" stroke-width="1"/>
<rect x="1505.5" y="352.0" width="2" height="7.0" rx="1" fill="#fff" stroke="#1f4fa3" stroke-width="1"/>
<line x1="1512.5" y1="331.9" x2="1512.5" y2="342.7" stroke="#1f4fa3" stroke-width="1"/>
<rect x="1511.5" y="343.2" width="2" height="4.8" rx="1" fill="#fff" stroke="#1f4fa3" stroke-width="1"/>
<line x1="1519.5" y1="301.0" x2="1519.5" y2="303.2" stroke="#1f4fa3" stroke-width="1"/>
<rect x="1518.5" y="303.7" width="2" height="37.2" rx="1" fill="#fff" stroke="#1f4fa3" stroke-width="1"/>
<line x1="1526.5" y1="293.9" x2="1526.5" y2="309.0" stroke="#1f4fa3" stroke-width="1"/>
<line x1="1525.0" y1="301.5" x2="1528.0" y2="301.5" stroke="#1f4fa3" stroke-width="1" stroke-opacity="0.6"/>
<line x1="1532.5" y1="290.9" x2="1532.5" y2="291.8" stroke="#1f4fa3" stroke-width="1"/>
<line x1="1532.5" y1="301.5" x2="1532.5" y2="311.9" stroke="#1f4fa3" stroke-width="1"/>
<rect x="1531.5" y="292.3" width="2" height="8.7" rx="1" fill="#fff" stroke="#1f4fa3" stroke-width="1"/>
<line x1="1539.5" y1="277.9" x2="1539.5" y2="286.4" stroke="#1f4fa3" stroke-width="1"/>
<ellipse cx="1539.5" cy="288.1" rx="1.15" ry="1.35" fill="#fff" stroke="#1f4fa3" stroke-width="1"/>
<line x1="1546.5" y1="282.9" x2="1546.5" y2="295.0" stroke="#ea4a4a" stroke-width="1"/>
<rect x="1545.0" y="287.3" width="3" height="3.6" fill="#ea4a4a"/>
<line x1="1553.5" y1="288.9" x2="1553.5" y2="310.0" stroke="#ea4a4a" stroke-width="1"/>
<rect x="1552.0" y="290.9" width="3" height="15.8" fill="#ea4a4a"/>
<line x1="1559.5" y1="301.9" x2="1559.5" y2="331.0" stroke="#ea4a4a" stroke-width="1"/>
<rect x="1558.0" y="306.2" width="3" height="19.4" fill="#ea4a4a"/>
<line x1="1566.5" y1="320.0" x2="1566.5" y2="330.1" stroke="#ea4a4a" stroke-width="1"/>
<line x1="1565.0" y1="326.1" x2="1568.0" y2="326.1" stroke="#ea4a4a" stroke-width="1" stroke-opacity="0.6"/>
<line x1="1573.5" y1="320.9" x2="1573.5" y2="335.9" stroke="#ea4a4a" stroke-width="1"/>
<rect x="1572.0" y="327.1" width="3" height="5.6" fill="#ea4a4a"/>
<line x1="1579.5" y1="315.9" x2="1579.5" y2="332.7" stroke="#0d3d9e" stroke-width="1"/>
<rect x="1578.0" y="324.9" width="3" height="6.1" fill="#0d3d9e"/>
</g>
<line x1="21" y1="331" x2="1812" y2="331" stroke="#6f7b6f" stroke-opacity="0.62" stroke-width="1.7" stroke-dasharray="4 3"/>
<rect x="725.5" y="341" width="1118.5" height="4" fill="#000"/>
<line x1="745.4" y1="297.3" x2="745.4" y2="319.3" stroke="#000" stroke-width="1.3"/>
<polygon points="740.1999999999999,318.3 750.6,318.3 745.4,328.7" fill="#000"/>
<line x1="1305.5" y1="297" x2="1305.5" y2="319.2" stroke="#000" stroke-width="1.3"/>
<polygon points="1300.3,318.2 1310.7,318.2 1305.5,328.4" fill="#000"/>
<line x1="1412.5" y1="292.3" x2="1412.5" y2="314.5" stroke="#000" stroke-width="1.3"/>
<polygon points="1407.3,313.5 1417.7,313.5 1412.5,323.6" fill="#000"/>
<line x1="1579.5" y1="379" x2="1579.5" y2="357" stroke="#000" stroke-width="1.3"/>
<polygon points="1574.5,357.8 1584.5,357.8 1579.5,347.6" fill="#000"/>
<g font-family="DejaVu Sans, Liberation Sans, sans-serif" font-size="10.5" fill="#828282">
<text x="1818.3" y="91.1" textLength="30.1" lengthAdjust="spacingAndGlyphs">90.03</text>
<text x="1818.3" y="141.0" textLength="30.1" lengthAdjust="spacingAndGlyphs">79.48</text>
<text x="1818.3" y="190.9" textLength="30.1" lengthAdjust="spacingAndGlyphs">70.17</text>
<text x="1818.3" y="241.8" textLength="30.1" lengthAdjust="spacingAndGlyphs">61.95</text>
<text x="1818.3" y="292.2" textLength="30.1" lengthAdjust="spacingAndGlyphs">54.69</text>
<text x="1818.3" y="343.4" textLength="30.1" lengthAdjust="spacingAndGlyphs">48.25</text>
<text x="1818.3" y="392.9" textLength="30.1" lengthAdjust="spacingAndGlyphs">42.63</text>
<text x="1818.3" y="443.5" textLength="30.1" lengthAdjust="spacingAndGlyphs">37.63</text>
<text x="1818.3" y="493.9" textLength="30.1" lengthAdjust="spacingAndGlyphs">33.23</text>
<text x="1818.3" y="544.1" textLength="30.1" lengthAdjust="spacingAndGlyphs">29.33</text>
<text x="1818.3" y="594.6" textLength="30.1" lengthAdjust="spacingAndGlyphs">25.90</text>
<text x="1818.3" y="644.9" textLength="30.1" lengthAdjust="spacingAndGlyphs">22.86</text>
<text x="1818.3" y="695.5" textLength="30.1" lengthAdjust="spacingAndGlyphs">20.18</text>
<text x="1813.3" y="741.2" textLength="30.1" lengthAdjust="spacingAndGlyphs">80.00</text>
<text x="1813.3" y="794.1" textLength="30.1" lengthAdjust="spacingAndGlyphs">60.00</text>
<text x="1813.3" y="847.0" textLength="30.1" lengthAdjust="spacingAndGlyphs">40.00</text>
</g>
<text x="1773" y="336" font-family="DejaVu Sans Condensed, DejaVu Sans, Liberation Sans, sans-serif" font-weight="bold" font-size="10.7" fill="#000" textLength="31" lengthAdjust="spacingAndGlyphs">48.53</text>
<rect x="1810" y="321" width="43" height="19" rx="3.5" fill="#b71c0c"/>
<text x="1817.2" y="334" font-family="DejaVu Sans Condensed, DejaVu Sans, Liberation Sans, sans-serif" font-weight="bold" font-size="10.7" fill="#fff" textLength="30" lengthAdjust="spacingAndGlyphs">49.97</text>
<rect x="21" y="881" width="1823" height="1" fill="#6e6e6e"/>
<g font-family="DejaVu Sans, Liberation Sans, sans-serif" font-size="10.5" fill="#828282" text-anchor="middle">
<rect x="64.0" y="881" width="1" height="9.5" fill="#6e6e6e"/>
<text x="64.8" y="899.9">Sep '20</text>
<rect x="180.0" y="881" width="1" height="9.5" fill="#6e6e6e"/>
<text x="180.8" y="899.9">Jan '21</text>
<rect x="295.0" y="881" width="1" height="9.5" fill="#6e6e6e"/>
<text x="295.8" y="899.9">May '21</text>
<rect x="412.0" y="881" width="1" height="9.5" fill="#6e6e6e"/>
<text x="412.8" y="899.9">Sep '21</text>
<rect x="529.0" y="881" width="1" height="9.5" fill="#6e6e6e"/>
<text x="529.8" y="899.9">Jan '22</text>
<rect x="643.0" y="881" width="1" height="9.5" fill="#6e6e6e"/>
<text x="643.8" y="899.9">May '22</text>
<rect x="760.0" y="881" width="1" height="9.5" fill="#6e6e6e"/>
<text x="760.8" y="899.9">Sep '22</text>
<rect x="877.0" y="881" width="1" height="9.5" fill="#6e6e6e"/>
<text x="877.8" y="899.9">Jan '23</text>
<rect x="991.0" y="881" width="1" height="9.5" fill="#6e6e6e"/>
<text x="991.8" y="899.9">May '23</text>
<rect x="1109.0" y="881" width="1" height="9.5" fill="#6e6e6e"/>
<text x="1109.8" y="899.9">Sep '23</text>
<rect x="1225.0" y="881" width="1" height="9.5" fill="#6e6e6e"/>
<text x="1225.8" y="899.9">Jan '24</text>
<rect x="1340.0" y="881" width="1" height="9.5" fill="#6e6e6e"/>
<text x="1340.8" y="899.9">May '24</text>
<rect x="1458.0" y="881" width="1" height="9.5" fill="#6e6e6e"/>
<text x="1458.8" y="899.9">Sep '24</text>
<rect x="1574.0" y="881" width="1" height="9.5" fill="#6e6e6e"/>
<text x="1574.8" y="899.9">Jan '25</text>
<rect x="1689.0" y="881" width="1" height="9.5" fill="#6e6e6e"/>
<text x="1689.8" y="899.9">May '25</text>
<rect x="1806.0" y="881" width="1" height="9.5" fill="#6e6e6e"/>
<text x="1806.8" y="899.9">Sep '25</text>
</g>
<text x="1755.2" y="877.8" font-family="DejaVu Sans Condensed, DejaVu Sans, Liberation Sans, sans-serif" font-size="10.4" fill="#808080" textLength="88.6" lengthAdjust="spacingAndGlyphs">Your local time zone</text>
<text x="20.2" y="920.5" font-family="Liberation Sans, sans-serif" font-size="10" fill="#111">©2025 TrendSpider</text>
<g fill="none" stroke="#3875b3" stroke-width="0.9">
<path d="M27.4 31.3 L29.3 35.4 M29.3 38.6 L27.4 42.6" stroke-width="1"/>
<circle cx="38.3" cy="27.4" r="2.2"/>
<circle cx="27" cy="29.5" r="1.8"/>
<circle cx="34" cy="31.9" r="1.6"/>
<circle cx="22.1" cy="36.6" r="2.0"/>
<circle cx="29.7" cy="37" r="1.6"/>
<circle cx="35.3" cy="39.1" r="1.6"/>
<circle cx="42.2" cy="41.9" r="2.1"/>
<circle cx="26.9" cy="44.7" r="2.1"/>
</g>
<text x="50.3" y="42.9" font-family="Liberation Sans, sans-serif" font-weight="bold" font-size="23.4" fill="#111" textLength="66.6" lengthAdjust="spacingAndGlyphs">Trend</text>
<text x="117.4" y="42.9" font-family="DejaVu Sans Light, DejaVu Sans, Liberation Sans, sans-serif" font-weight="200" font-size="22.4" fill="#111" stroke="#111" stroke-width="0.3" textLength="74.2" lengthAdjust="spacingAndGlyphs">Spider</text>
<text x="203.4" y="39.9" font-family="DejaVu Sans, Liberation Sans, sans-serif" font-size="12" fill="#333" textLength="155.5" lengthAdjust="spacingAndGlyphs">Jan 11, 2025 11:27AM EST</text>
<text x="23" y="71.9" font-family="DejaVu Sans, Liberation Sans, sans-serif" font-size="11.5" fill="#333" textLength="314.5" lengthAdjust="spacingAndGlyphs">TNL, Weekly, Hollow Candles chart (Logarithmic scale)</text>
</svg>
</body></html>
